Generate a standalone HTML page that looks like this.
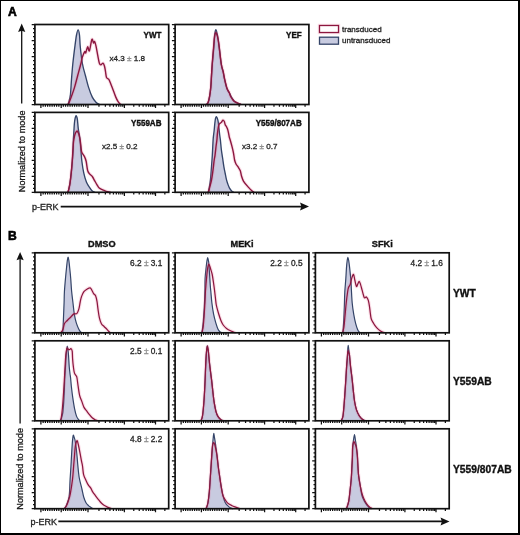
<!DOCTYPE html>
<html><head><meta charset="utf-8"><style>
html,body{margin:0;padding:0;background:#fff;}
body{width:520px;height:535px;overflow:hidden;font-family:"Liberation Sans",sans-serif;position:relative;}
.bt,.bl,.br,.bb{position:absolute;background:#000;}
.bt{left:0;top:0;width:520px;height:1.2px;}
.bl{left:0;top:0;width:1.4px;height:535px;}
.br{left:518px;top:0;width:2px;height:535px;}
.bb{left:0;top:533px;width:520px;height:2px;}
svg{display:block;filter:blur(0.35px);}
</style></head><body>
<svg width="520" height="535" viewBox="0 0 520 535" font-family="Liberation Sans, sans-serif"><rect x="0" y="0" width="520" height="535" fill="#fff"/>
<path d="M67.5 104.5 C67.67 104.28 68.02 104.82 68.5 103.2 C68.98 101.58 69.9 98.77 70.4 94.8 C70.9 90.83 71.1 84.53 71.5 79.4 C71.9 74.27 72.25 69.38 72.8 64 C73.35 58.62 74.18 51.93 74.8 47.1 C75.42 42.27 75.95 37.88 76.5 35 C77.05 32.12 77.6 29.8 78.1 29.8 C78.6 29.8 79.13 32.13 79.5 35 C79.87 37.87 79.8 42.17 80.3 47 C80.8 51.83 81.65 59.25 82.5 64 C83.35 68.75 84.4 71.65 85.4 75.5 C86.4 79.35 87.35 83.5 88.5 87.1 C89.65 90.7 91.02 94.53 92.3 97.1 C93.58 99.67 95 101.27 96.2 102.5 C97.4 103.73 98.95 104.17 99.5 104.5 Z" fill="#c8cbe0" stroke="none"/>
<path d="M67.5 104.5 C67.67 104.28 68.02 104.82 68.5 103.2 C68.98 101.58 69.9 98.77 70.4 94.8 C70.9 90.83 71.1 84.53 71.5 79.4 C71.9 74.27 72.25 69.38 72.8 64 C73.35 58.62 74.18 51.93 74.8 47.1 C75.42 42.27 75.95 37.88 76.5 35 C77.05 32.12 77.6 29.8 78.1 29.8 C78.6 29.8 79.13 32.13 79.5 35 C79.87 37.87 79.8 42.17 80.3 47 C80.8 51.83 81.65 59.25 82.5 64 C83.35 68.75 84.4 71.65 85.4 75.5 C86.4 79.35 87.35 83.5 88.5 87.1 C89.65 90.7 91.02 94.53 92.3 97.1 C93.58 99.67 95 101.27 96.2 102.5 C97.4 103.73 98.95 104.17 99.5 104.5" fill="none" stroke="#344468" stroke-width="1.35" stroke-linejoin="round"/>
<path d="M68.3 104.5 C68.83 103.13 70.45 99.2 71.5 96.3 C72.55 93.4 73.57 90.57 74.6 87.1 C75.63 83.63 76.67 79.35 77.7 75.5 C78.73 71.65 80.03 67.03 80.8 64 C81.57 60.97 81.65 59.35 82.3 57.3 C82.95 55.25 84.12 52.45 84.7 51.7 C85.28 50.95 85.32 53.62 85.8 52.8 C86.28 51.98 87 47.13 87.6 46.8 C88.2 46.47 88.68 52.03 89.4 50.8 C90.12 49.57 91.22 40.7 91.9 39.4 C92.58 38.1 93.05 42.67 93.5 43 C93.95 43.33 94.2 40.95 94.6 41.4 C95 41.85 95.4 43.5 95.9 45.7 C96.4 47.9 97 51.62 97.6 54.6 C98.2 57.58 98.92 61.9 99.5 63.6 C100.08 65.3 100.52 64.88 101.1 64.8 C101.68 64.72 102.43 62.87 103 63.1 C103.57 63.33 104.08 64.8 104.5 66.2 C104.92 67.6 105.17 69.62 105.5 71.5 C105.83 73.38 105.95 76.18 106.5 77.5 C107.05 78.82 108.08 78.32 108.8 79.4 C109.52 80.48 110.02 82.08 110.8 84 C111.58 85.92 112.67 88.72 113.5 90.9 C114.33 93.08 115.03 95.3 115.8 97.1 C116.57 98.9 117.32 100.47 118.1 101.7 C118.88 102.93 120.1 104.03 120.5 104.5" fill="none" stroke="#e8507f" stroke-width="3.4" stroke-linejoin="round" stroke-opacity="0.18"/>
<path d="M68.3 104.5 C68.83 103.13 70.45 99.2 71.5 96.3 C72.55 93.4 73.57 90.57 74.6 87.1 C75.63 83.63 76.67 79.35 77.7 75.5 C78.73 71.65 80.03 67.03 80.8 64 C81.57 60.97 81.65 59.35 82.3 57.3 C82.95 55.25 84.12 52.45 84.7 51.7 C85.28 50.95 85.32 53.62 85.8 52.8 C86.28 51.98 87 47.13 87.6 46.8 C88.2 46.47 88.68 52.03 89.4 50.8 C90.12 49.57 91.22 40.7 91.9 39.4 C92.58 38.1 93.05 42.67 93.5 43 C93.95 43.33 94.2 40.95 94.6 41.4 C95 41.85 95.4 43.5 95.9 45.7 C96.4 47.9 97 51.62 97.6 54.6 C98.2 57.58 98.92 61.9 99.5 63.6 C100.08 65.3 100.52 64.88 101.1 64.8 C101.68 64.72 102.43 62.87 103 63.1 C103.57 63.33 104.08 64.8 104.5 66.2 C104.92 67.6 105.17 69.62 105.5 71.5 C105.83 73.38 105.95 76.18 106.5 77.5 C107.05 78.82 108.08 78.32 108.8 79.4 C109.52 80.48 110.02 82.08 110.8 84 C111.58 85.92 112.67 88.72 113.5 90.9 C114.33 93.08 115.03 95.3 115.8 97.1 C116.57 98.9 117.32 100.47 118.1 101.7 C118.88 102.93 120.1 104.03 120.5 104.5" fill="none" stroke="#8c173f" stroke-width="1.4" stroke-linejoin="round"/>
<path d="M206.5 104.5 C206.77 104.17 207.58 103.87 208.1 102.5 C208.62 101.13 209.15 98.87 209.6 96.3 C210.05 93.73 210.48 90.57 210.8 87.1 C211.12 83.63 211.25 79.35 211.5 75.5 C211.75 71.65 211.92 68.73 212.3 64 C212.68 59.27 213.42 51.85 213.8 47.1 C214.18 42.35 214.27 38.38 214.6 35.5 C214.93 32.62 215.37 30.05 215.8 29.8 C216.23 29.55 216.78 32.3 217.2 34 C217.62 35.7 217.97 37.82 218.3 40 C218.63 42.18 218.72 43.1 219.2 47.1 C219.68 51.1 220.55 59.9 221.2 64 C221.85 68.1 222.53 69.13 223.1 71.7 C223.67 74.27 223.97 76.58 224.6 79.4 C225.23 82.22 226.07 86.28 226.9 88.6 C227.73 90.92 228.77 91.75 229.6 93.3 C230.43 94.85 231.13 96.57 231.9 97.9 C232.67 99.23 233.23 100.43 234.2 101.3 C235.17 102.17 236.57 102.57 237.7 103.1 C238.83 103.63 240.45 104.27 241 104.5 Z" fill="#c8cbe0" stroke="none"/>
<path d="M206.5 104.5 C206.77 104.17 207.58 103.87 208.1 102.5 C208.62 101.13 209.15 98.87 209.6 96.3 C210.05 93.73 210.48 90.57 210.8 87.1 C211.12 83.63 211.25 79.35 211.5 75.5 C211.75 71.65 211.92 68.73 212.3 64 C212.68 59.27 213.42 51.85 213.8 47.1 C214.18 42.35 214.27 38.38 214.6 35.5 C214.93 32.62 215.37 30.05 215.8 29.8 C216.23 29.55 216.78 32.3 217.2 34 C217.62 35.7 217.97 37.82 218.3 40 C218.63 42.18 218.72 43.1 219.2 47.1 C219.68 51.1 220.55 59.9 221.2 64 C221.85 68.1 222.53 69.13 223.1 71.7 C223.67 74.27 223.97 76.58 224.6 79.4 C225.23 82.22 226.07 86.28 226.9 88.6 C227.73 90.92 228.77 91.75 229.6 93.3 C230.43 94.85 231.13 96.57 231.9 97.9 C232.67 99.23 233.23 100.43 234.2 101.3 C235.17 102.17 236.57 102.57 237.7 103.1 C238.83 103.63 240.45 104.27 241 104.5" fill="none" stroke="#344468" stroke-width="1.35" stroke-linejoin="round"/>
<path d="M206.5 104.5 C206.77 104.17 207.58 103.87 208.1 102.5 C208.62 101.13 209.15 98.87 209.6 96.3 C210.05 93.73 210.48 90.57 210.8 87.1 C211.12 83.63 211.27 79.35 211.5 75.5 C211.73 71.65 211.85 68.73 212.2 64 C212.55 59.27 213.2 51.68 213.6 47.1 C214 42.52 214.23 38.92 214.6 36.5 C214.97 34.08 215.37 32.77 215.8 32.6 C216.23 32.43 216.8 34.27 217.2 35.5 C217.6 36.73 217.87 38.07 218.2 40 C218.53 41.93 218.68 43.1 219.2 47.1 C219.72 51.1 220.63 59.9 221.3 64 C221.97 68.1 222.63 69.13 223.2 71.7 C223.77 74.27 224.05 76.58 224.7 79.4 C225.35 82.22 226.35 86.42 227.1 88.6 C227.85 90.78 228.62 91.22 229.2 92.5 C229.78 93.78 230.1 95.25 230.6 96.3 C231.1 97.35 231.55 97.93 232.2 98.8 C232.85 99.67 233.58 100.77 234.5 101.5 C235.42 102.23 236.62 102.7 237.7 103.2 C238.78 103.7 240.45 104.28 241 104.5" fill="none" stroke="#e8507f" stroke-width="3.4" stroke-linejoin="round" stroke-opacity="0.18"/>
<path d="M206.5 104.5 C206.77 104.17 207.58 103.87 208.1 102.5 C208.62 101.13 209.15 98.87 209.6 96.3 C210.05 93.73 210.48 90.57 210.8 87.1 C211.12 83.63 211.27 79.35 211.5 75.5 C211.73 71.65 211.85 68.73 212.2 64 C212.55 59.27 213.2 51.68 213.6 47.1 C214 42.52 214.23 38.92 214.6 36.5 C214.97 34.08 215.37 32.77 215.8 32.6 C216.23 32.43 216.8 34.27 217.2 35.5 C217.6 36.73 217.87 38.07 218.2 40 C218.53 41.93 218.68 43.1 219.2 47.1 C219.72 51.1 220.63 59.9 221.3 64 C221.97 68.1 222.63 69.13 223.2 71.7 C223.77 74.27 224.05 76.58 224.7 79.4 C225.35 82.22 226.35 86.42 227.1 88.6 C227.85 90.78 228.62 91.22 229.2 92.5 C229.78 93.78 230.1 95.25 230.6 96.3 C231.1 97.35 231.55 97.93 232.2 98.8 C232.85 99.67 233.58 100.77 234.5 101.5 C235.42 102.23 236.62 102.7 237.7 103.2 C238.78 103.7 240.45 104.28 241 104.5" fill="none" stroke="#8c173f" stroke-width="1.4" stroke-linejoin="round"/>
<path d="M67.8 192.3 C67.97 191.78 68.43 190.73 68.8 189.2 C69.17 187.67 69.6 185.78 70 183.1 C70.4 180.42 70.82 176.7 71.2 173.1 C71.58 169.5 71.98 165.35 72.3 161.5 C72.62 157.65 72.93 153.38 73.1 150 C73.27 146.62 73.17 144.35 73.3 141.2 C73.43 138.05 73.72 134.1 73.9 131.1 C74.08 128.1 74.18 125.38 74.4 123.2 C74.62 121.02 74.92 119.27 75.2 118 C75.48 116.73 75.8 115.68 76.1 115.6 C76.4 115.52 76.77 116.7 77 117.5 C77.23 118.3 77.28 118.52 77.5 120.4 C77.72 122.28 77.93 126 78.3 128.8 C78.67 131.6 79.33 134.5 79.7 137.2 C80.07 139.9 80.3 142.87 80.5 145 C80.7 147.13 80.67 147.25 80.9 150 C81.13 152.75 81.42 157.65 81.9 161.5 C82.38 165.35 83.03 169.63 83.8 173.1 C84.57 176.57 85.47 179.8 86.5 182.3 C87.53 184.8 89.03 186.65 90 188.1 C90.97 189.55 91.47 190.3 92.3 191 C93.13 191.7 94.55 192.08 95 192.3 Z" fill="#c8cbe0" stroke="none"/>
<path d="M67.8 192.3 C67.97 191.78 68.43 190.73 68.8 189.2 C69.17 187.67 69.6 185.78 70 183.1 C70.4 180.42 70.82 176.7 71.2 173.1 C71.58 169.5 71.98 165.35 72.3 161.5 C72.62 157.65 72.93 153.38 73.1 150 C73.27 146.62 73.17 144.35 73.3 141.2 C73.43 138.05 73.72 134.1 73.9 131.1 C74.08 128.1 74.18 125.38 74.4 123.2 C74.62 121.02 74.92 119.27 75.2 118 C75.48 116.73 75.8 115.68 76.1 115.6 C76.4 115.52 76.77 116.7 77 117.5 C77.23 118.3 77.28 118.52 77.5 120.4 C77.72 122.28 77.93 126 78.3 128.8 C78.67 131.6 79.33 134.5 79.7 137.2 C80.07 139.9 80.3 142.87 80.5 145 C80.7 147.13 80.67 147.25 80.9 150 C81.13 152.75 81.42 157.65 81.9 161.5 C82.38 165.35 83.03 169.63 83.8 173.1 C84.57 176.57 85.47 179.8 86.5 182.3 C87.53 184.8 89.03 186.65 90 188.1 C90.97 189.55 91.47 190.3 92.3 191 C93.13 191.7 94.55 192.08 95 192.3" fill="none" stroke="#344468" stroke-width="1.35" stroke-linejoin="round"/>
<path d="M68 192.3 C68.13 191.78 68.47 190.73 68.8 189.2 C69.13 187.67 69.6 185.78 70 183.1 C70.4 180.42 70.83 176.7 71.2 173.1 C71.57 169.5 71.92 165.35 72.2 161.5 C72.48 157.65 72.68 153.25 72.9 150 C73.12 146.75 73.25 144.22 73.5 142 C73.75 139.78 74.07 138.2 74.4 136.7 C74.73 135.2 75.08 133.93 75.5 133 C75.92 132.07 76.52 131.27 76.9 131.1 C77.28 130.93 77.47 131.45 77.8 132 C78.13 132.55 78.48 132.87 78.9 134.4 C79.32 135.93 79.92 138.77 80.3 141.2 C80.68 143.63 80.93 147.12 81.2 149 C81.47 150.88 81.33 151.18 81.9 152.5 C82.47 153.82 83.88 155.4 84.6 156.9 C85.32 158.4 85.68 159.18 86.2 161.5 C86.72 163.82 87.07 168.67 87.7 170.8 C88.33 172.93 89.23 173.35 90 174.3 C90.77 175.25 91.53 175.45 92.3 176.5 C93.07 177.55 93.83 179.25 94.6 180.6 C95.37 181.95 96.13 183.35 96.9 184.6 C97.67 185.85 98.23 187.23 99.2 188.1 C100.17 188.97 101.53 189.27 102.7 189.8 C103.87 190.33 104.9 190.88 106.2 191.3 C107.5 191.72 109.78 192.13 110.5 192.3" fill="none" stroke="#e8507f" stroke-width="3.4" stroke-linejoin="round" stroke-opacity="0.18"/>
<path d="M68 192.3 C68.13 191.78 68.47 190.73 68.8 189.2 C69.13 187.67 69.6 185.78 70 183.1 C70.4 180.42 70.83 176.7 71.2 173.1 C71.57 169.5 71.92 165.35 72.2 161.5 C72.48 157.65 72.68 153.25 72.9 150 C73.12 146.75 73.25 144.22 73.5 142 C73.75 139.78 74.07 138.2 74.4 136.7 C74.73 135.2 75.08 133.93 75.5 133 C75.92 132.07 76.52 131.27 76.9 131.1 C77.28 130.93 77.47 131.45 77.8 132 C78.13 132.55 78.48 132.87 78.9 134.4 C79.32 135.93 79.92 138.77 80.3 141.2 C80.68 143.63 80.93 147.12 81.2 149 C81.47 150.88 81.33 151.18 81.9 152.5 C82.47 153.82 83.88 155.4 84.6 156.9 C85.32 158.4 85.68 159.18 86.2 161.5 C86.72 163.82 87.07 168.67 87.7 170.8 C88.33 172.93 89.23 173.35 90 174.3 C90.77 175.25 91.53 175.45 92.3 176.5 C93.07 177.55 93.83 179.25 94.6 180.6 C95.37 181.95 96.13 183.35 96.9 184.6 C97.67 185.85 98.23 187.23 99.2 188.1 C100.17 188.97 101.53 189.27 102.7 189.8 C103.87 190.33 104.9 190.88 106.2 191.3 C107.5 191.72 109.78 192.13 110.5 192.3" fill="none" stroke="#8c173f" stroke-width="1.4" stroke-linejoin="round"/>
<path d="M208 192.3 C208.13 191.92 208.4 192.05 208.8 190 C209.2 187.95 210 183.2 210.4 180 C210.8 176.8 210.88 174.9 211.2 170.8 C211.52 166.7 211.98 160.53 212.3 155.4 C212.62 150.27 212.88 143.4 213.1 140 C213.32 136.6 213.42 136.67 213.6 135 C213.78 133.33 214 131.92 214.2 130 C214.4 128.08 214.58 125.42 214.8 123.5 C215.02 121.58 215.25 119.65 215.5 118.5 C215.75 117.35 216.02 116.68 216.3 116.6 C216.58 116.52 216.92 117.32 217.2 118 C217.48 118.68 217.73 119.3 218 120.7 C218.27 122.1 218.52 124.02 218.8 126.4 C219.08 128.78 219.43 132.73 219.7 135 C219.97 137.27 220.12 137.5 220.4 140 C220.68 142.5 221.03 147 221.4 150 C221.77 153 222.18 155.2 222.6 158 C223.02 160.8 223.48 164.3 223.9 166.8 C224.32 169.3 224.68 170.9 225.1 173 C225.52 175.1 225.95 177.57 226.4 179.4 C226.85 181.23 227.3 182.6 227.8 184 C228.3 185.4 228.72 186.6 229.4 187.8 C230.08 189 231.17 190.45 231.9 191.2 C232.63 191.95 233.48 192.12 233.8 192.3 Z" fill="#c8cbe0" stroke="none"/>
<path d="M208 192.3 C208.13 191.92 208.4 192.05 208.8 190 C209.2 187.95 210 183.2 210.4 180 C210.8 176.8 210.88 174.9 211.2 170.8 C211.52 166.7 211.98 160.53 212.3 155.4 C212.62 150.27 212.88 143.4 213.1 140 C213.32 136.6 213.42 136.67 213.6 135 C213.78 133.33 214 131.92 214.2 130 C214.4 128.08 214.58 125.42 214.8 123.5 C215.02 121.58 215.25 119.65 215.5 118.5 C215.75 117.35 216.02 116.68 216.3 116.6 C216.58 116.52 216.92 117.32 217.2 118 C217.48 118.68 217.73 119.3 218 120.7 C218.27 122.1 218.52 124.02 218.8 126.4 C219.08 128.78 219.43 132.73 219.7 135 C219.97 137.27 220.12 137.5 220.4 140 C220.68 142.5 221.03 147 221.4 150 C221.77 153 222.18 155.2 222.6 158 C223.02 160.8 223.48 164.3 223.9 166.8 C224.32 169.3 224.68 170.9 225.1 173 C225.52 175.1 225.95 177.57 226.4 179.4 C226.85 181.23 227.3 182.6 227.8 184 C228.3 185.4 228.72 186.6 229.4 187.8 C230.08 189 231.17 190.45 231.9 191.2 C232.63 191.95 233.48 192.12 233.8 192.3" fill="none" stroke="#344468" stroke-width="1.35" stroke-linejoin="round"/>
<path d="M208.5 192.3 C208.58 191.92 208.5 192.05 209 190 C209.5 187.95 210.85 183.2 211.5 180 C212.15 176.8 212.45 174.13 212.9 170.8 C213.35 167.47 213.85 162.57 214.2 160 C214.55 157.43 214.67 157.9 215 155.4 C215.33 152.9 215.88 147.57 216.2 145 C216.52 142.43 216.7 141.85 216.9 140 C217.1 138.15 217.12 136.27 217.4 133.9 C217.68 131.53 218.17 127.57 218.6 125.8 C219.03 124.03 219.53 123.87 220 123.3 C220.47 122.73 220.92 122.92 221.4 122.4 C221.88 121.88 222.42 120.35 222.9 120.2 C223.38 120.05 223.92 120.75 224.3 121.5 C224.68 122.25 224.82 123.78 225.2 124.7 C225.58 125.62 226.17 126.13 226.6 127 C227.03 127.87 227.45 128.75 227.8 129.9 C228.15 131.05 228.43 132.63 228.7 133.9 C228.97 135.17 229.15 136.48 229.4 137.5 C229.65 138.52 229.78 138.55 230.2 140 C230.62 141.45 231.35 144.02 231.9 146.2 C232.45 148.38 233.05 150.8 233.5 153.1 C233.95 155.4 234.18 158.18 234.6 160 C235.02 161.82 235.42 162.85 236 164 C236.58 165.15 237.38 165.77 238.1 166.9 C238.82 168.03 239.73 169.28 240.3 170.8 C240.87 172.32 240.95 174.25 241.5 176 C242.05 177.75 242.47 179.45 243.6 181.3 C244.73 183.15 246.88 185.48 248.3 187.1 C249.72 188.72 251.15 190.13 252.1 191 C253.05 191.87 253.68 192.08 254 192.3" fill="none" stroke="#e8507f" stroke-width="3.4" stroke-linejoin="round" stroke-opacity="0.18"/>
<path d="M208.5 192.3 C208.58 191.92 208.5 192.05 209 190 C209.5 187.95 210.85 183.2 211.5 180 C212.15 176.8 212.45 174.13 212.9 170.8 C213.35 167.47 213.85 162.57 214.2 160 C214.55 157.43 214.67 157.9 215 155.4 C215.33 152.9 215.88 147.57 216.2 145 C216.52 142.43 216.7 141.85 216.9 140 C217.1 138.15 217.12 136.27 217.4 133.9 C217.68 131.53 218.17 127.57 218.6 125.8 C219.03 124.03 219.53 123.87 220 123.3 C220.47 122.73 220.92 122.92 221.4 122.4 C221.88 121.88 222.42 120.35 222.9 120.2 C223.38 120.05 223.92 120.75 224.3 121.5 C224.68 122.25 224.82 123.78 225.2 124.7 C225.58 125.62 226.17 126.13 226.6 127 C227.03 127.87 227.45 128.75 227.8 129.9 C228.15 131.05 228.43 132.63 228.7 133.9 C228.97 135.17 229.15 136.48 229.4 137.5 C229.65 138.52 229.78 138.55 230.2 140 C230.62 141.45 231.35 144.02 231.9 146.2 C232.45 148.38 233.05 150.8 233.5 153.1 C233.95 155.4 234.18 158.18 234.6 160 C235.02 161.82 235.42 162.85 236 164 C236.58 165.15 237.38 165.77 238.1 166.9 C238.82 168.03 239.73 169.28 240.3 170.8 C240.87 172.32 240.95 174.25 241.5 176 C242.05 177.75 242.47 179.45 243.6 181.3 C244.73 183.15 246.88 185.48 248.3 187.1 C249.72 188.72 251.15 190.13 252.1 191 C253.05 191.87 253.68 192.08 254 192.3" fill="none" stroke="#8c173f" stroke-width="1.4" stroke-linejoin="round"/>
<path d="M31.7 24.5H34.9 M33 28.5H34.9 M33 32.5H34.9 M33 36.5H34.9 M31.7 40.5H34.9 M33 44.5H34.9 M33 48.5H34.9 M33 52.5H34.9 M31.7 56.5H34.9 M33 60.5H34.9 M33 64.5H34.9 M33 68.5H34.9 M31.7 72.5H34.9 M33 76.5H34.9 M33 80.5H34.9 M33 84.5H34.9 M31.7 88.5H34.9 M33 92.5H34.9 M33 96.5H34.9 M33 100.5H34.9 M31.7 104.5H34.9 M40.9 104.5V108.1 M61.2 104.5V108.1 M88 104.5V108.1 M124.4 104.5V108.1 M155.5 104.5V108.1 M43.14 104.5V106.8 M45.39 104.5V106.8 M47.63 104.5V106.8 M49.87 104.5V106.8 M52.11 104.5V106.8 M54.36 104.5V106.8 M56.6 104.5V106.8 M58.84 104.5V106.8 M63.33 104.5V106.8 M65.57 104.5V106.8 M67.81 104.5V106.8 M70.06 104.5V106.8 M72.3 104.5V106.8 M74.54 104.5V106.8 M76.79 104.5V106.8 M79.03 104.5V106.8 M81.27 104.5V106.8 M83.51 104.5V106.8 M85.76 104.5V106.8 M98.96 104.5V106.8 M105.37 104.5V106.8 M109.91 104.5V106.8 M113.44 104.5V106.8 M116.32 104.5V106.8 M118.76 104.5V106.8 M120.87 104.5V106.8 M122.73 104.5V106.8 M133.76 104.5V106.8 M139.24 104.5V106.8 M143.12 104.5V106.8 M146.14 104.5V106.8 M148.6 104.5V106.8 M150.68 104.5V106.8 M152.49 104.5V106.8 M154.08 104.5V106.8 M164.86 104.5V106.8" stroke="#111" stroke-width="1.25" fill="none"/>
<rect x="34.9" y="24.5" width="133.8" height="80" fill="none" stroke="#111" stroke-width="1.7"/>
<text x="0" y="0" font-size="8.05" font-weight="bold" text-anchor="end" fill="#111" stroke="#111" stroke-width="0.35" transform="translate(161.5 37.8) scale(1 1.11)">YWT</text>
<path d="M171.9 24.5H175.1 M173.2 28.5H175.1 M173.2 32.5H175.1 M173.2 36.5H175.1 M171.9 40.5H175.1 M173.2 44.5H175.1 M173.2 48.5H175.1 M173.2 52.5H175.1 M171.9 56.5H175.1 M173.2 60.5H175.1 M173.2 64.5H175.1 M173.2 68.5H175.1 M171.9 72.5H175.1 M173.2 76.5H175.1 M173.2 80.5H175.1 M173.2 84.5H175.1 M171.9 88.5H175.1 M173.2 92.5H175.1 M173.2 96.5H175.1 M173.2 100.5H175.1 M171.9 104.5H175.1 M181.1 104.5V108.1 M201.4 104.5V108.1 M228.2 104.5V108.1 M264.6 104.5V108.1 M295.7 104.5V108.1 M183.34 104.5V106.8 M185.59 104.5V106.8 M187.83 104.5V106.8 M190.07 104.5V106.8 M192.31 104.5V106.8 M194.56 104.5V106.8 M196.8 104.5V106.8 M199.04 104.5V106.8 M203.53 104.5V106.8 M205.77 104.5V106.8 M208.01 104.5V106.8 M210.26 104.5V106.8 M212.5 104.5V106.8 M214.74 104.5V106.8 M216.99 104.5V106.8 M219.23 104.5V106.8 M221.47 104.5V106.8 M223.71 104.5V106.8 M225.96 104.5V106.8 M239.16 104.5V106.8 M245.57 104.5V106.8 M250.11 104.5V106.8 M253.64 104.5V106.8 M256.52 104.5V106.8 M258.96 104.5V106.8 M261.07 104.5V106.8 M262.93 104.5V106.8 M273.96 104.5V106.8 M279.44 104.5V106.8 M283.32 104.5V106.8 M286.34 104.5V106.8 M288.8 104.5V106.8 M290.88 104.5V106.8 M292.69 104.5V106.8 M294.28 104.5V106.8 M305.06 104.5V106.8" stroke="#111" stroke-width="1.25" fill="none"/>
<rect x="175.1" y="24.5" width="133.8" height="80" fill="none" stroke="#111" stroke-width="1.7"/>
<text x="0" y="0" font-size="8.05" font-weight="bold" text-anchor="end" fill="#111" stroke="#111" stroke-width="0.35" transform="translate(301.7 37.8) scale(1 1.11)">YEF</text>
<path d="M31.7 112.4H34.9 M33 116.4H34.9 M33 120.39H34.9 M33 124.39H34.9 M31.7 128.38H34.9 M33 132.38H34.9 M33 136.37H34.9 M33 140.37H34.9 M31.7 144.36H34.9 M33 148.36H34.9 M33 152.35H34.9 M33 156.35H34.9 M31.7 160.34H34.9 M33 164.34H34.9 M33 168.33H34.9 M33 172.33H34.9 M31.7 176.32H34.9 M33 180.31H34.9 M33 184.31H34.9 M33 188.31H34.9 M31.7 192.3H34.9 M40.9 192.3V195.9 M61.2 192.3V195.9 M88 192.3V195.9 M124.4 192.3V195.9 M155.5 192.3V195.9 M43.14 192.3V194.6 M45.39 192.3V194.6 M47.63 192.3V194.6 M49.87 192.3V194.6 M52.11 192.3V194.6 M54.36 192.3V194.6 M56.6 192.3V194.6 M58.84 192.3V194.6 M63.33 192.3V194.6 M65.57 192.3V194.6 M67.81 192.3V194.6 M70.06 192.3V194.6 M72.3 192.3V194.6 M74.54 192.3V194.6 M76.79 192.3V194.6 M79.03 192.3V194.6 M81.27 192.3V194.6 M83.51 192.3V194.6 M85.76 192.3V194.6 M98.96 192.3V194.6 M105.37 192.3V194.6 M109.91 192.3V194.6 M113.44 192.3V194.6 M116.32 192.3V194.6 M118.76 192.3V194.6 M120.87 192.3V194.6 M122.73 192.3V194.6 M133.76 192.3V194.6 M139.24 192.3V194.6 M143.12 192.3V194.6 M146.14 192.3V194.6 M148.6 192.3V194.6 M150.68 192.3V194.6 M152.49 192.3V194.6 M154.08 192.3V194.6 M164.86 192.3V194.6" stroke="#111" stroke-width="1.25" fill="none"/>
<rect x="34.9" y="112.4" width="133.8" height="79.9" fill="none" stroke="#111" stroke-width="1.7"/>
<text x="0" y="0" font-size="8.05" font-weight="bold" text-anchor="end" fill="#111" stroke="#111" stroke-width="0.35" transform="translate(161.5 125.7) scale(1 1.11)">Y559AB</text>
<path d="M171.9 112.4H175.1 M173.2 116.4H175.1 M173.2 120.39H175.1 M173.2 124.39H175.1 M171.9 128.38H175.1 M173.2 132.38H175.1 M173.2 136.37H175.1 M173.2 140.37H175.1 M171.9 144.36H175.1 M173.2 148.36H175.1 M173.2 152.35H175.1 M173.2 156.35H175.1 M171.9 160.34H175.1 M173.2 164.34H175.1 M173.2 168.33H175.1 M173.2 172.33H175.1 M171.9 176.32H175.1 M173.2 180.31H175.1 M173.2 184.31H175.1 M173.2 188.31H175.1 M171.9 192.3H175.1 M181.1 192.3V195.9 M201.4 192.3V195.9 M228.2 192.3V195.9 M264.6 192.3V195.9 M295.7 192.3V195.9 M183.34 192.3V194.6 M185.59 192.3V194.6 M187.83 192.3V194.6 M190.07 192.3V194.6 M192.31 192.3V194.6 M194.56 192.3V194.6 M196.8 192.3V194.6 M199.04 192.3V194.6 M203.53 192.3V194.6 M205.77 192.3V194.6 M208.01 192.3V194.6 M210.26 192.3V194.6 M212.5 192.3V194.6 M214.74 192.3V194.6 M216.99 192.3V194.6 M219.23 192.3V194.6 M221.47 192.3V194.6 M223.71 192.3V194.6 M225.96 192.3V194.6 M239.16 192.3V194.6 M245.57 192.3V194.6 M250.11 192.3V194.6 M253.64 192.3V194.6 M256.52 192.3V194.6 M258.96 192.3V194.6 M261.07 192.3V194.6 M262.93 192.3V194.6 M273.96 192.3V194.6 M279.44 192.3V194.6 M283.32 192.3V194.6 M286.34 192.3V194.6 M288.8 192.3V194.6 M290.88 192.3V194.6 M292.69 192.3V194.6 M294.28 192.3V194.6 M305.06 192.3V194.6" stroke="#111" stroke-width="1.25" fill="none"/>
<rect x="175.1" y="112.4" width="133.8" height="79.9" fill="none" stroke="#111" stroke-width="1.7"/>
<text x="0" y="0" font-size="8.05" font-weight="bold" text-anchor="end" fill="#111" stroke="#111" stroke-width="0.35" transform="translate(301.7 125.7) scale(1 1.11)">Y559/807AB</text>
<path d="M62.6 332.8 C62.63 332.53 62.7 332.57 62.8 331.2 C62.9 329.83 63.07 327.35 63.2 324.6 C63.33 321.85 63.45 318.42 63.6 314.7 C63.75 310.98 63.97 306.08 64.1 302.3 C64.23 298.52 64.17 296.02 64.4 292 C64.63 287.98 65.13 282.37 65.5 278.2 C65.87 274.03 66.28 270.03 66.6 267 C66.92 263.97 67.15 261.63 67.4 260 C67.65 258.37 67.87 257.2 68.1 257.2 C68.33 257.2 68.55 258.37 68.8 260 C69.05 261.63 69.28 263.97 69.6 267 C69.92 270.03 70.37 274.2 70.7 278.2 C71.03 282.2 71.23 286.98 71.6 291 C71.97 295.02 72.43 298.35 72.9 302.3 C73.37 306.25 73.83 311.27 74.4 314.7 C74.97 318.13 75.58 320.52 76.3 322.9 C77.02 325.28 77.98 327.48 78.7 329 C79.42 330.52 80.05 331.37 80.6 332 C81.15 332.63 81.77 332.67 82 332.8 Z" fill="#c8cbe0" stroke="none"/>
<path d="M62.6 332.8 C62.63 332.53 62.7 332.57 62.8 331.2 C62.9 329.83 63.07 327.35 63.2 324.6 C63.33 321.85 63.45 318.42 63.6 314.7 C63.75 310.98 63.97 306.08 64.1 302.3 C64.23 298.52 64.17 296.02 64.4 292 C64.63 287.98 65.13 282.37 65.5 278.2 C65.87 274.03 66.28 270.03 66.6 267 C66.92 263.97 67.15 261.63 67.4 260 C67.65 258.37 67.87 257.2 68.1 257.2 C68.33 257.2 68.55 258.37 68.8 260 C69.05 261.63 69.28 263.97 69.6 267 C69.92 270.03 70.37 274.2 70.7 278.2 C71.03 282.2 71.23 286.98 71.6 291 C71.97 295.02 72.43 298.35 72.9 302.3 C73.37 306.25 73.83 311.27 74.4 314.7 C74.97 318.13 75.58 320.52 76.3 322.9 C77.02 325.28 77.98 327.48 78.7 329 C79.42 330.52 80.05 331.37 80.6 332 C81.15 332.63 81.77 332.67 82 332.8" fill="none" stroke="#344468" stroke-width="1.2" stroke-linejoin="round"/>
<path d="M60.8 332.8 C61.15 332.25 62.28 331.05 62.9 329.5 C63.52 327.95 63.77 325 64.5 323.5 C65.23 322 66.28 321.55 67.3 320.5 C68.32 319.45 69.5 318.3 70.6 317.2 C71.7 316.1 72.87 314.5 73.9 313.9 C74.93 313.3 75.97 314.43 76.8 313.6 C77.63 312.77 78.33 310.83 78.9 308.9 C79.47 306.97 79.77 304.05 80.2 302 C80.63 299.95 80.88 298.32 81.5 296.6 C82.12 294.88 83.02 292.92 83.9 291.7 C84.78 290.48 85.75 289.95 86.8 289.3 C87.85 288.65 89.32 287.57 90.2 287.8 C91.08 288.03 91.53 289.72 92.1 290.7 C92.67 291.68 93.03 292.88 93.6 293.7 C94.17 294.52 94.93 294.32 95.5 295.6 C96.07 296.88 96.58 299.13 97 301.4 C97.42 303.67 97.6 306.45 98 309.2 C98.4 311.95 98.83 315.48 99.4 317.9 C99.97 320.32 100.58 322.23 101.4 323.7 C102.22 325.17 103.33 325.72 104.3 326.7 C105.27 327.68 106.25 328.58 107.2 329.6 C108.15 330.62 109.53 332.27 110 332.8" fill="none" stroke="#e8507f" stroke-width="3.4" stroke-linejoin="round" stroke-opacity="0.18"/>
<path d="M60.8 332.8 C61.15 332.25 62.28 331.05 62.9 329.5 C63.52 327.95 63.77 325 64.5 323.5 C65.23 322 66.28 321.55 67.3 320.5 C68.32 319.45 69.5 318.3 70.6 317.2 C71.7 316.1 72.87 314.5 73.9 313.9 C74.93 313.3 75.97 314.43 76.8 313.6 C77.63 312.77 78.33 310.83 78.9 308.9 C79.47 306.97 79.77 304.05 80.2 302 C80.63 299.95 80.88 298.32 81.5 296.6 C82.12 294.88 83.02 292.92 83.9 291.7 C84.78 290.48 85.75 289.95 86.8 289.3 C87.85 288.65 89.32 287.57 90.2 287.8 C91.08 288.03 91.53 289.72 92.1 290.7 C92.67 291.68 93.03 292.88 93.6 293.7 C94.17 294.52 94.93 294.32 95.5 295.6 C96.07 296.88 96.58 299.13 97 301.4 C97.42 303.67 97.6 306.45 98 309.2 C98.4 311.95 98.83 315.48 99.4 317.9 C99.97 320.32 100.58 322.23 101.4 323.7 C102.22 325.17 103.33 325.72 104.3 326.7 C105.27 327.68 106.25 328.58 107.2 329.6 C108.15 330.62 109.53 332.27 110 332.8" fill="none" stroke="#8c173f" stroke-width="1.25" stroke-linejoin="round"/>
<path d="M201.8 332.8 C201.97 331.72 202.48 329.1 202.8 326.3 C203.12 323.5 203.42 319.88 203.7 316 C203.98 312.12 204.3 307.17 204.5 303 C204.7 298.83 204.8 295.13 204.9 291 C205 286.87 204.88 282.2 205.1 278.2 C205.32 274.2 205.88 269.95 206.2 267 C206.52 264.05 206.75 262.07 207 260.5 C207.25 258.93 207.47 257.6 207.7 257.6 C207.93 257.6 208.22 259.57 208.4 260.5 C208.58 261.43 208.6 260.88 208.8 263.2 C209 265.52 209.35 270.65 209.6 274.4 C209.85 278.15 210.1 282.93 210.3 285.7 C210.5 288.47 210.53 288.12 210.8 291 C211.07 293.88 211.43 299.13 211.9 303 C212.37 306.87 212.95 310.88 213.6 314.2 C214.25 317.52 215.08 320.45 215.8 322.9 C216.52 325.35 217.18 327.38 217.9 328.9 C218.62 330.42 219.42 331.35 220.1 332 C220.78 332.65 221.68 332.67 222 332.8 Z" fill="#c8cbe0" stroke="none"/>
<path d="M201.8 332.8 C201.97 331.72 202.48 329.1 202.8 326.3 C203.12 323.5 203.42 319.88 203.7 316 C203.98 312.12 204.3 307.17 204.5 303 C204.7 298.83 204.8 295.13 204.9 291 C205 286.87 204.88 282.2 205.1 278.2 C205.32 274.2 205.88 269.95 206.2 267 C206.52 264.05 206.75 262.07 207 260.5 C207.25 258.93 207.47 257.6 207.7 257.6 C207.93 257.6 208.22 259.57 208.4 260.5 C208.58 261.43 208.6 260.88 208.8 263.2 C209 265.52 209.35 270.65 209.6 274.4 C209.85 278.15 210.1 282.93 210.3 285.7 C210.5 288.47 210.53 288.12 210.8 291 C211.07 293.88 211.43 299.13 211.9 303 C212.37 306.87 212.95 310.88 213.6 314.2 C214.25 317.52 215.08 320.45 215.8 322.9 C216.52 325.35 217.18 327.38 217.9 328.9 C218.62 330.42 219.42 331.35 220.1 332 C220.78 332.65 221.68 332.67 222 332.8" fill="none" stroke="#344468" stroke-width="1.2" stroke-linejoin="round"/>
<path d="M202 332.8 C202.2 331.72 202.85 329.1 203.2 326.3 C203.55 323.5 203.82 319.88 204.1 316 C204.38 312.12 204.68 307 204.9 303 C205.12 299 205.25 294.67 205.4 292 C205.55 289.33 205.67 288.68 205.8 287 C205.93 285.32 205.95 284.62 206.2 281.9 C206.45 279.18 206.98 273.35 207.3 270.7 C207.62 268.05 207.85 267.12 208.1 266 C208.35 264.88 208.53 264 208.8 264 C209.07 264 209.38 265.13 209.7 266 C210.02 266.87 210.28 267.78 210.7 269.2 C211.12 270.62 211.75 272.37 212.2 274.5 C212.65 276.63 213.02 279.42 213.4 282 C213.78 284.58 214.17 287.38 214.5 290 C214.83 292.62 215.1 295.2 215.4 297.7 C215.7 300.2 215.8 302.45 216.3 305 C216.8 307.55 217.63 310.42 218.4 313 C219.17 315.58 220.1 318.5 220.9 320.5 C221.7 322.5 222.27 323.68 223.2 325 C224.13 326.32 225.2 327.4 226.5 328.4 C227.8 329.4 229.5 330.27 231 331 C232.5 331.73 234.75 332.5 235.5 332.8" fill="none" stroke="#e8507f" stroke-width="3.4" stroke-linejoin="round" stroke-opacity="0.18"/>
<path d="M202 332.8 C202.2 331.72 202.85 329.1 203.2 326.3 C203.55 323.5 203.82 319.88 204.1 316 C204.38 312.12 204.68 307 204.9 303 C205.12 299 205.25 294.67 205.4 292 C205.55 289.33 205.67 288.68 205.8 287 C205.93 285.32 205.95 284.62 206.2 281.9 C206.45 279.18 206.98 273.35 207.3 270.7 C207.62 268.05 207.85 267.12 208.1 266 C208.35 264.88 208.53 264 208.8 264 C209.07 264 209.38 265.13 209.7 266 C210.02 266.87 210.28 267.78 210.7 269.2 C211.12 270.62 211.75 272.37 212.2 274.5 C212.65 276.63 213.02 279.42 213.4 282 C213.78 284.58 214.17 287.38 214.5 290 C214.83 292.62 215.1 295.2 215.4 297.7 C215.7 300.2 215.8 302.45 216.3 305 C216.8 307.55 217.63 310.42 218.4 313 C219.17 315.58 220.1 318.5 220.9 320.5 C221.7 322.5 222.27 323.68 223.2 325 C224.13 326.32 225.2 327.4 226.5 328.4 C227.8 329.4 229.5 330.27 231 331 C232.5 331.73 234.75 332.5 235.5 332.8" fill="none" stroke="#8c173f" stroke-width="1.25" stroke-linejoin="round"/>
<path d="M342.6 332.8 C342.67 332.45 342.83 332.35 343 330.7 C343.17 329.05 343.38 326.8 343.6 322.9 C343.82 319 344.1 312.45 344.3 307.3 C344.5 302.15 344.55 296.73 344.8 292 C345.05 287.27 345.52 283 345.8 278.9 C346.08 274.8 346.27 270.47 346.5 267.4 C346.73 264.33 346.97 262.17 347.2 260.5 C347.43 258.83 347.65 257.4 347.9 257.4 C348.15 257.4 348.42 258.83 348.7 260.5 C348.98 262.17 349.32 264.97 349.6 267.4 C349.88 269.83 350.15 272.5 350.4 275.1 C350.65 277.7 350.93 280.52 351.1 283 C351.27 285.48 351.22 286.67 351.4 290 C351.58 293.33 351.82 298.97 352.2 303 C352.58 307.03 353.12 310.75 353.7 314.2 C354.28 317.65 355.05 321.15 355.7 323.7 C356.35 326.25 357 328.08 357.6 329.5 C358.2 330.92 358.87 331.65 359.3 332.2 C359.73 332.75 360.05 332.7 360.2 332.8 Z" fill="#c8cbe0" stroke="none"/>
<path d="M342.6 332.8 C342.67 332.45 342.83 332.35 343 330.7 C343.17 329.05 343.38 326.8 343.6 322.9 C343.82 319 344.1 312.45 344.3 307.3 C344.5 302.15 344.55 296.73 344.8 292 C345.05 287.27 345.52 283 345.8 278.9 C346.08 274.8 346.27 270.47 346.5 267.4 C346.73 264.33 346.97 262.17 347.2 260.5 C347.43 258.83 347.65 257.4 347.9 257.4 C348.15 257.4 348.42 258.83 348.7 260.5 C348.98 262.17 349.32 264.97 349.6 267.4 C349.88 269.83 350.15 272.5 350.4 275.1 C350.65 277.7 350.93 280.52 351.1 283 C351.27 285.48 351.22 286.67 351.4 290 C351.58 293.33 351.82 298.97 352.2 303 C352.58 307.03 353.12 310.75 353.7 314.2 C354.28 317.65 355.05 321.15 355.7 323.7 C356.35 326.25 357 328.08 357.6 329.5 C358.2 330.92 358.87 331.65 359.3 332.2 C359.73 332.75 360.05 332.7 360.2 332.8" fill="none" stroke="#344468" stroke-width="1.2" stroke-linejoin="round"/>
<path d="M342.8 332.8 C342.85 332.5 342.9 332.08 343.1 331 C343.3 329.92 343.68 328.8 344 326.3 C344.32 323.8 344.63 319.88 345 316 C345.37 312.12 345.77 307 346.2 303 C346.63 299 347.22 294.58 347.6 292 C347.98 289.42 348.07 288.75 348.5 287.5 C348.93 286.25 349.68 285.97 350.2 284.5 C350.72 283.03 351.05 280.4 351.6 278.7 C352.15 277 352.97 274.08 353.5 274.3 C354.03 274.52 354.32 277.97 354.8 280 C355.28 282.03 355.93 285.77 356.4 286.5 C356.87 287.23 357.13 285.27 357.6 284.4 C358.07 283.53 358.72 281.3 359.2 281.3 C359.68 281.3 360.02 282.92 360.5 284.4 C360.98 285.88 361.52 288.1 362.1 290.2 C362.68 292.3 363.52 295.73 364 297 C364.48 298.27 364.6 297.8 365 297.8 C365.4 297.8 365.85 296.57 366.4 297 C366.95 297.43 367.77 298.68 368.3 300.4 C368.83 302.12 369.27 305.2 369.6 307.3 C369.93 309.4 370.03 311.1 370.3 313 C370.57 314.9 370.67 316.98 371.2 318.7 C371.73 320.42 372.73 321.97 373.5 323.3 C374.27 324.63 374.93 325.65 375.8 326.7 C376.67 327.75 377.75 328.78 378.7 329.6 C379.65 330.42 380.53 331.07 381.5 331.6 C382.47 332.13 384 332.6 384.5 332.8" fill="none" stroke="#e8507f" stroke-width="3.4" stroke-linejoin="round" stroke-opacity="0.18"/>
<path d="M342.8 332.8 C342.85 332.5 342.9 332.08 343.1 331 C343.3 329.92 343.68 328.8 344 326.3 C344.32 323.8 344.63 319.88 345 316 C345.37 312.12 345.77 307 346.2 303 C346.63 299 347.22 294.58 347.6 292 C347.98 289.42 348.07 288.75 348.5 287.5 C348.93 286.25 349.68 285.97 350.2 284.5 C350.72 283.03 351.05 280.4 351.6 278.7 C352.15 277 352.97 274.08 353.5 274.3 C354.03 274.52 354.32 277.97 354.8 280 C355.28 282.03 355.93 285.77 356.4 286.5 C356.87 287.23 357.13 285.27 357.6 284.4 C358.07 283.53 358.72 281.3 359.2 281.3 C359.68 281.3 360.02 282.92 360.5 284.4 C360.98 285.88 361.52 288.1 362.1 290.2 C362.68 292.3 363.52 295.73 364 297 C364.48 298.27 364.6 297.8 365 297.8 C365.4 297.8 365.85 296.57 366.4 297 C366.95 297.43 367.77 298.68 368.3 300.4 C368.83 302.12 369.27 305.2 369.6 307.3 C369.93 309.4 370.03 311.1 370.3 313 C370.57 314.9 370.67 316.98 371.2 318.7 C371.73 320.42 372.73 321.97 373.5 323.3 C374.27 324.63 374.93 325.65 375.8 326.7 C376.67 327.75 377.75 328.78 378.7 329.6 C379.65 330.42 380.53 331.07 381.5 331.6 C382.47 332.13 384 332.6 384.5 332.8" fill="none" stroke="#8c173f" stroke-width="1.25" stroke-linejoin="round"/>
<path d="M60.5 420.8 C60.88 419.43 62.2 416.85 62.8 412.6 C63.4 408.35 63.78 400.9 64.1 395.3 C64.42 389.7 64.47 383.85 64.7 379 C64.93 374.15 65.25 370.2 65.5 366.2 C65.75 362.2 65.98 357.87 66.2 355 C66.42 352.13 66.62 350.5 66.8 349 C66.98 347.5 67.12 346 67.3 346 C67.48 346 67.7 347.5 67.9 349 C68.1 350.5 68.28 352.13 68.5 355 C68.72 357.87 68.95 363.08 69.2 366.2 C69.45 369.32 69.77 371.73 70 373.7 C70.23 375.67 70.37 375.83 70.6 378 C70.83 380.17 71.03 383.38 71.4 386.7 C71.77 390.02 72.28 394.3 72.8 397.9 C73.32 401.5 73.88 405.27 74.5 408.3 C75.12 411.33 75.83 414.23 76.5 416.1 C77.17 417.97 77.92 418.72 78.5 419.5 C79.08 420.28 79.75 420.58 80 420.8 Z" fill="#c8cbe0" stroke="none"/>
<path d="M60.5 420.8 C60.88 419.43 62.2 416.85 62.8 412.6 C63.4 408.35 63.78 400.9 64.1 395.3 C64.42 389.7 64.47 383.85 64.7 379 C64.93 374.15 65.25 370.2 65.5 366.2 C65.75 362.2 65.98 357.87 66.2 355 C66.42 352.13 66.62 350.5 66.8 349 C66.98 347.5 67.12 346 67.3 346 C67.48 346 67.7 347.5 67.9 349 C68.1 350.5 68.28 352.13 68.5 355 C68.72 357.87 68.95 363.08 69.2 366.2 C69.45 369.32 69.77 371.73 70 373.7 C70.23 375.67 70.37 375.83 70.6 378 C70.83 380.17 71.03 383.38 71.4 386.7 C71.77 390.02 72.28 394.3 72.8 397.9 C73.32 401.5 73.88 405.27 74.5 408.3 C75.12 411.33 75.83 414.23 76.5 416.1 C77.17 417.97 77.92 418.72 78.5 419.5 C79.08 420.28 79.75 420.58 80 420.8" fill="none" stroke="#344468" stroke-width="1.2" stroke-linejoin="round"/>
<path d="M60.2 420.8 C60.35 420.45 60.73 420.78 61.1 418.7 C61.47 416.62 61.97 412.92 62.4 408.3 C62.83 403.68 63.37 395.88 63.7 391 C64.03 386.12 64.17 383.13 64.4 379 C64.63 374.87 64.87 370.2 65.1 366.2 C65.33 362.2 65.48 358 65.8 355 C66.12 352 66.55 349.08 67 348.2 C67.45 347.32 68 349.52 68.5 349.7 C69 349.88 69.57 349.48 70 349.3 C70.43 349.12 70.73 348.28 71.1 348.6 C71.47 348.92 71.95 349.52 72.2 351.2 C72.45 352.88 72.42 356.2 72.6 358.7 C72.78 361.2 73 363.83 73.3 366.2 C73.6 368.57 73.9 371.27 74.4 372.9 C74.9 374.53 75.87 375.15 76.3 376 C76.73 376.85 76.68 376.22 77 378 C77.32 379.78 77.77 383.82 78.2 386.7 C78.63 389.58 79 392.85 79.6 395.3 C80.2 397.75 81.07 399.38 81.8 401.4 C82.53 403.42 83.2 405.82 84 407.4 C84.8 408.98 85.73 409.75 86.6 410.9 C87.47 412.05 88.27 413.15 89.2 414.3 C90.13 415.45 91.12 416.85 92.2 417.8 C93.28 418.75 94.82 419.5 95.7 420 C96.58 420.5 97.2 420.67 97.5 420.8" fill="none" stroke="#e8507f" stroke-width="3.4" stroke-linejoin="round" stroke-opacity="0.18"/>
<path d="M60.2 420.8 C60.35 420.45 60.73 420.78 61.1 418.7 C61.47 416.62 61.97 412.92 62.4 408.3 C62.83 403.68 63.37 395.88 63.7 391 C64.03 386.12 64.17 383.13 64.4 379 C64.63 374.87 64.87 370.2 65.1 366.2 C65.33 362.2 65.48 358 65.8 355 C66.12 352 66.55 349.08 67 348.2 C67.45 347.32 68 349.52 68.5 349.7 C69 349.88 69.57 349.48 70 349.3 C70.43 349.12 70.73 348.28 71.1 348.6 C71.47 348.92 71.95 349.52 72.2 351.2 C72.45 352.88 72.42 356.2 72.6 358.7 C72.78 361.2 73 363.83 73.3 366.2 C73.6 368.57 73.9 371.27 74.4 372.9 C74.9 374.53 75.87 375.15 76.3 376 C76.73 376.85 76.68 376.22 77 378 C77.32 379.78 77.77 383.82 78.2 386.7 C78.63 389.58 79 392.85 79.6 395.3 C80.2 397.75 81.07 399.38 81.8 401.4 C82.53 403.42 83.2 405.82 84 407.4 C84.8 408.98 85.73 409.75 86.6 410.9 C87.47 412.05 88.27 413.15 89.2 414.3 C90.13 415.45 91.12 416.85 92.2 417.8 C93.28 418.75 94.82 419.5 95.7 420 C96.58 420.5 97.2 420.67 97.5 420.8" fill="none" stroke="#8c173f" stroke-width="1.25" stroke-linejoin="round"/>
<path d="M201 420.8 C201.25 419.97 202.03 418.73 202.5 415.8 C202.97 412.87 203.45 407.4 203.8 403.2 C204.15 399 204.38 394.47 204.6 390.6 C204.82 386.73 204.93 383.95 205.1 380 C205.27 376.05 205.42 371 205.6 366.9 C205.78 362.8 206 358.38 206.2 355.4 C206.4 352.42 206.62 350.6 206.8 349 C206.98 347.4 207.12 345.88 207.3 345.8 C207.48 345.72 207.72 347.55 207.9 348.5 C208.08 349.45 208.13 349.07 208.4 351.5 C208.67 353.93 209.08 359.25 209.5 363.1 C209.92 366.95 210.55 371.78 210.9 374.6 C211.25 377.42 211.37 378.03 211.6 380 C211.83 381.97 212.03 383.93 212.3 386.4 C212.57 388.87 212.87 392 213.2 394.8 C213.53 397.6 213.83 400.4 214.3 403.2 C214.77 406 215.37 409.35 216 411.6 C216.63 413.85 217.23 415.3 218.1 416.7 C218.97 418.1 220.35 419.32 221.2 420 C222.05 420.68 222.87 420.67 223.2 420.8 Z" fill="#c8cbe0" stroke="none"/>
<path d="M201 420.8 C201.25 419.97 202.03 418.73 202.5 415.8 C202.97 412.87 203.45 407.4 203.8 403.2 C204.15 399 204.38 394.47 204.6 390.6 C204.82 386.73 204.93 383.95 205.1 380 C205.27 376.05 205.42 371 205.6 366.9 C205.78 362.8 206 358.38 206.2 355.4 C206.4 352.42 206.62 350.6 206.8 349 C206.98 347.4 207.12 345.88 207.3 345.8 C207.48 345.72 207.72 347.55 207.9 348.5 C208.08 349.45 208.13 349.07 208.4 351.5 C208.67 353.93 209.08 359.25 209.5 363.1 C209.92 366.95 210.55 371.78 210.9 374.6 C211.25 377.42 211.37 378.03 211.6 380 C211.83 381.97 212.03 383.93 212.3 386.4 C212.57 388.87 212.87 392 213.2 394.8 C213.53 397.6 213.83 400.4 214.3 403.2 C214.77 406 215.37 409.35 216 411.6 C216.63 413.85 217.23 415.3 218.1 416.7 C218.97 418.1 220.35 419.32 221.2 420 C222.05 420.68 222.87 420.67 223.2 420.8" fill="none" stroke="#344468" stroke-width="1.2" stroke-linejoin="round"/>
<path d="M201 420.8 C201.25 419.97 202.03 418.73 202.5 415.8 C202.97 412.87 203.45 407.4 203.8 403.2 C204.15 399 204.38 394.47 204.6 390.6 C204.82 386.73 204.93 383.95 205.1 380 C205.27 376.05 205.42 371 205.6 366.9 C205.78 362.8 206 358.38 206.2 355.4 C206.4 352.42 206.62 350.53 206.8 349 C206.98 347.47 207.12 346.28 207.3 346.2 C207.48 346.12 207.72 347.62 207.9 348.5 C208.08 349.38 208.13 349.07 208.4 351.5 C208.67 353.93 209.08 359.25 209.5 363.1 C209.92 366.95 210.55 371.78 210.9 374.6 C211.25 377.42 211.37 378.03 211.6 380 C211.83 381.97 212.03 383.93 212.3 386.4 C212.57 388.87 212.87 392 213.2 394.8 C213.53 397.6 213.83 400.4 214.3 403.2 C214.77 406 215.37 409.35 216 411.6 C216.63 413.85 217.23 415.3 218.1 416.7 C218.97 418.1 220.35 419.32 221.2 420 C222.05 420.68 222.87 420.67 223.2 420.8" fill="none" stroke="#e8507f" stroke-width="3.4" stroke-linejoin="round" stroke-opacity="0.18"/>
<path d="M201 420.8 C201.25 419.97 202.03 418.73 202.5 415.8 C202.97 412.87 203.45 407.4 203.8 403.2 C204.15 399 204.38 394.47 204.6 390.6 C204.82 386.73 204.93 383.95 205.1 380 C205.27 376.05 205.42 371 205.6 366.9 C205.78 362.8 206 358.38 206.2 355.4 C206.4 352.42 206.62 350.53 206.8 349 C206.98 347.47 207.12 346.28 207.3 346.2 C207.48 346.12 207.72 347.62 207.9 348.5 C208.08 349.38 208.13 349.07 208.4 351.5 C208.67 353.93 209.08 359.25 209.5 363.1 C209.92 366.95 210.55 371.78 210.9 374.6 C211.25 377.42 211.37 378.03 211.6 380 C211.83 381.97 212.03 383.93 212.3 386.4 C212.57 388.87 212.87 392 213.2 394.8 C213.53 397.6 213.83 400.4 214.3 403.2 C214.77 406 215.37 409.35 216 411.6 C216.63 413.85 217.23 415.3 218.1 416.7 C218.97 418.1 220.35 419.32 221.2 420 C222.05 420.68 222.87 420.67 223.2 420.8" fill="none" stroke="#8c173f" stroke-width="1.25" stroke-linejoin="round"/>
<path d="M341.3 420.8 C341.58 419.97 342.52 418.73 343 415.8 C343.48 412.87 343.85 407.4 344.2 403.2 C344.55 399 344.83 394.47 345.1 390.6 C345.37 386.73 345.55 383.95 345.8 380 C346.05 376.05 346.32 371 346.6 366.9 C346.88 362.8 347.3 358.38 347.5 355.4 C347.7 352.42 347.68 350.67 347.8 349 C347.92 347.33 348.05 345.4 348.2 345.4 C348.35 345.4 348.48 347.33 348.7 349 C348.92 350.67 349.18 352.42 349.5 355.4 C349.82 358.38 350.18 363.13 350.6 366.9 C351.02 370.67 351.55 374.05 352 378 C352.45 381.95 352.87 386.68 353.3 390.6 C353.73 394.52 354.07 398.28 354.6 401.5 C355.13 404.72 355.72 407.52 356.5 409.9 C357.28 412.28 358.33 414.25 359.3 415.8 C360.27 417.35 361.35 418.37 362.3 419.2 C363.25 420.03 364.55 420.53 365 420.8 Z" fill="#c8cbe0" stroke="none"/>
<path d="M341.3 420.8 C341.58 419.97 342.52 418.73 343 415.8 C343.48 412.87 343.85 407.4 344.2 403.2 C344.55 399 344.83 394.47 345.1 390.6 C345.37 386.73 345.55 383.95 345.8 380 C346.05 376.05 346.32 371 346.6 366.9 C346.88 362.8 347.3 358.38 347.5 355.4 C347.7 352.42 347.68 350.67 347.8 349 C347.92 347.33 348.05 345.4 348.2 345.4 C348.35 345.4 348.48 347.33 348.7 349 C348.92 350.67 349.18 352.42 349.5 355.4 C349.82 358.38 350.18 363.13 350.6 366.9 C351.02 370.67 351.55 374.05 352 378 C352.45 381.95 352.87 386.68 353.3 390.6 C353.73 394.52 354.07 398.28 354.6 401.5 C355.13 404.72 355.72 407.52 356.5 409.9 C357.28 412.28 358.33 414.25 359.3 415.8 C360.27 417.35 361.35 418.37 362.3 419.2 C363.25 420.03 364.55 420.53 365 420.8" fill="none" stroke="#344468" stroke-width="1.2" stroke-linejoin="round"/>
<path d="M341.3 420.8 C341.58 419.97 342.52 418.73 343 415.8 C343.48 412.87 343.85 407.4 344.2 403.2 C344.55 399 344.83 394.47 345.1 390.6 C345.37 386.73 345.55 383.95 345.8 380 C346.05 376.05 346.32 371 346.6 366.9 C346.88 362.8 347.32 357.72 347.5 355.4 C347.68 353.08 347.58 353.82 347.7 353 C347.82 352.18 348.02 350.5 348.2 350.5 C348.38 350.5 348.58 352.18 348.8 353 C349.02 353.82 349.2 353.08 349.5 355.4 C349.8 357.72 350.18 363.13 350.6 366.9 C351.02 370.67 351.55 374.05 352 378 C352.45 381.95 352.87 386.68 353.3 390.6 C353.73 394.52 354.07 398.28 354.6 401.5 C355.13 404.72 355.72 407.52 356.5 409.9 C357.28 412.28 358.33 414.25 359.3 415.8 C360.27 417.35 361.35 418.37 362.3 419.2 C363.25 420.03 364.55 420.53 365 420.8" fill="none" stroke="#e8507f" stroke-width="3.4" stroke-linejoin="round" stroke-opacity="0.18"/>
<path d="M341.3 420.8 C341.58 419.97 342.52 418.73 343 415.8 C343.48 412.87 343.85 407.4 344.2 403.2 C344.55 399 344.83 394.47 345.1 390.6 C345.37 386.73 345.55 383.95 345.8 380 C346.05 376.05 346.32 371 346.6 366.9 C346.88 362.8 347.32 357.72 347.5 355.4 C347.68 353.08 347.58 353.82 347.7 353 C347.82 352.18 348.02 350.5 348.2 350.5 C348.38 350.5 348.58 352.18 348.8 353 C349.02 353.82 349.2 353.08 349.5 355.4 C349.8 357.72 350.18 363.13 350.6 366.9 C351.02 370.67 351.55 374.05 352 378 C352.45 381.95 352.87 386.68 353.3 390.6 C353.73 394.52 354.07 398.28 354.6 401.5 C355.13 404.72 355.72 407.52 356.5 409.9 C357.28 412.28 358.33 414.25 359.3 415.8 C360.27 417.35 361.35 418.37 362.3 419.2 C363.25 420.03 364.55 420.53 365 420.8" fill="none" stroke="#8c173f" stroke-width="1.25" stroke-linejoin="round"/>
<path d="M64.3 508.7 C64.63 508.17 65.63 506.95 66.3 505.5 C66.97 504.05 67.78 501.92 68.3 500 C68.82 498.08 69.1 497.43 69.4 494 C69.7 490.57 69.85 483.9 70.1 479.4 C70.35 474.9 70.65 471.2 70.9 467 C71.15 462.8 71.37 458.2 71.6 454.2 C71.83 450.2 72.1 445.7 72.3 443 C72.5 440.3 72.63 439.32 72.8 438 C72.97 436.68 73.07 435.18 73.3 435.1 C73.53 435.02 73.92 436.68 74.2 437.5 C74.48 438.32 74.68 438.47 75 440 C75.32 441.53 75.73 443.72 76.1 446.7 C76.47 449.68 76.92 454.85 77.2 457.9 C77.48 460.95 77.47 461.73 77.8 465 C78.13 468.27 78.52 473.5 79.2 477.5 C79.88 481.5 81.15 485.75 81.9 489 C82.65 492.25 83.02 494.72 83.7 497 C84.38 499.28 85.2 501.27 86 502.7 C86.8 504.13 87.67 504.82 88.5 505.6 C89.33 506.38 90.22 506.88 91 507.4 C91.78 507.92 92.83 508.48 93.2 508.7 Z" fill="#c8cbe0" stroke="none"/>
<path d="M64.3 508.7 C64.63 508.17 65.63 506.95 66.3 505.5 C66.97 504.05 67.78 501.92 68.3 500 C68.82 498.08 69.1 497.43 69.4 494 C69.7 490.57 69.85 483.9 70.1 479.4 C70.35 474.9 70.65 471.2 70.9 467 C71.15 462.8 71.37 458.2 71.6 454.2 C71.83 450.2 72.1 445.7 72.3 443 C72.5 440.3 72.63 439.32 72.8 438 C72.97 436.68 73.07 435.18 73.3 435.1 C73.53 435.02 73.92 436.68 74.2 437.5 C74.48 438.32 74.68 438.47 75 440 C75.32 441.53 75.73 443.72 76.1 446.7 C76.47 449.68 76.92 454.85 77.2 457.9 C77.48 460.95 77.47 461.73 77.8 465 C78.13 468.27 78.52 473.5 79.2 477.5 C79.88 481.5 81.15 485.75 81.9 489 C82.65 492.25 83.02 494.72 83.7 497 C84.38 499.28 85.2 501.27 86 502.7 C86.8 504.13 87.67 504.82 88.5 505.6 C89.33 506.38 90.22 506.88 91 507.4 C91.78 507.92 92.83 508.48 93.2 508.7" fill="none" stroke="#344468" stroke-width="1.2" stroke-linejoin="round"/>
<path d="M64.5 508.7 C64.85 508.17 65.92 506.95 66.6 505.5 C67.28 504.05 67.98 501.95 68.6 500 C69.22 498.05 69.65 497.23 70.3 493.8 C70.95 490.37 71.95 483.95 72.5 479.4 C73.05 474.85 73.25 470.7 73.6 466.5 C73.95 462.3 74.32 457.5 74.6 454.2 C74.88 450.9 75.03 448.65 75.3 446.7 C75.57 444.75 75.88 443.5 76.2 442.5 C76.52 441.5 76.85 440.37 77.2 440.7 C77.55 441.03 77.87 442.63 78.3 444.5 C78.73 446.37 79.3 449.28 79.8 451.9 C80.3 454.52 80.85 457.85 81.3 460.2 C81.75 462.55 82.12 463.6 82.5 466 C82.88 468.4 83.02 472.2 83.6 474.6 C84.18 477 85.2 478.63 86 480.4 C86.8 482.17 87.6 483.92 88.4 485.2 C89.2 486.48 90.08 486.98 90.8 488.1 C91.52 489.22 91.9 490.62 92.7 491.9 C93.5 493.18 94.63 494.52 95.6 495.8 C96.57 497.08 97.55 498.4 98.5 499.6 C99.45 500.8 100.38 502.05 101.3 503 C102.22 503.95 102.98 504.62 104 505.3 C105.02 505.98 106.15 506.53 107.4 507.1 C108.65 507.67 110.82 508.43 111.5 508.7" fill="none" stroke="#e8507f" stroke-width="3.4" stroke-linejoin="round" stroke-opacity="0.18"/>
<path d="M64.5 508.7 C64.85 508.17 65.92 506.95 66.6 505.5 C67.28 504.05 67.98 501.95 68.6 500 C69.22 498.05 69.65 497.23 70.3 493.8 C70.95 490.37 71.95 483.95 72.5 479.4 C73.05 474.85 73.25 470.7 73.6 466.5 C73.95 462.3 74.32 457.5 74.6 454.2 C74.88 450.9 75.03 448.65 75.3 446.7 C75.57 444.75 75.88 443.5 76.2 442.5 C76.52 441.5 76.85 440.37 77.2 440.7 C77.55 441.03 77.87 442.63 78.3 444.5 C78.73 446.37 79.3 449.28 79.8 451.9 C80.3 454.52 80.85 457.85 81.3 460.2 C81.75 462.55 82.12 463.6 82.5 466 C82.88 468.4 83.02 472.2 83.6 474.6 C84.18 477 85.2 478.63 86 480.4 C86.8 482.17 87.6 483.92 88.4 485.2 C89.2 486.48 90.08 486.98 90.8 488.1 C91.52 489.22 91.9 490.62 92.7 491.9 C93.5 493.18 94.63 494.52 95.6 495.8 C96.57 497.08 97.55 498.4 98.5 499.6 C99.45 500.8 100.38 502.05 101.3 503 C102.22 503.95 102.98 504.62 104 505.3 C105.02 505.98 106.15 506.53 107.4 507.1 C108.65 507.67 110.82 508.43 111.5 508.7" fill="none" stroke="#8c173f" stroke-width="1.25" stroke-linejoin="round"/>
<path d="M206.1 508.7 C206.4 507.75 207.37 505.78 207.9 503 C208.43 500.22 208.92 496 209.3 492 C209.68 488 209.92 483.17 210.2 479 C210.48 474.83 210.73 471.02 211 467 C211.27 462.98 211.52 458.83 211.8 454.9 C212.08 450.97 212.45 446.38 212.7 443.4 C212.95 440.42 213.12 438.67 213.3 437 C213.48 435.33 213.62 433.4 213.8 433.4 C213.98 433.4 214.13 435.33 214.4 437 C214.67 438.67 214.98 440.42 215.4 443.4 C215.82 446.38 216.42 450.97 216.9 454.9 C217.38 458.83 217.87 463.58 218.3 467 C218.73 470.42 219.02 472.13 219.5 475.4 C219.98 478.67 220.63 483.28 221.2 486.6 C221.77 489.92 222.25 492.7 222.9 495.3 C223.55 497.9 224.3 500.47 225.1 502.2 C225.9 503.93 226.83 504.77 227.7 505.7 C228.57 506.63 229.42 507.3 230.3 507.8 C231.18 508.3 232.55 508.55 233 508.7 Z" fill="#c8cbe0" stroke="none"/>
<path d="M206.1 508.7 C206.4 507.75 207.37 505.78 207.9 503 C208.43 500.22 208.92 496 209.3 492 C209.68 488 209.92 483.17 210.2 479 C210.48 474.83 210.73 471.02 211 467 C211.27 462.98 211.52 458.83 211.8 454.9 C212.08 450.97 212.45 446.38 212.7 443.4 C212.95 440.42 213.12 438.67 213.3 437 C213.48 435.33 213.62 433.4 213.8 433.4 C213.98 433.4 214.13 435.33 214.4 437 C214.67 438.67 214.98 440.42 215.4 443.4 C215.82 446.38 216.42 450.97 216.9 454.9 C217.38 458.83 217.87 463.58 218.3 467 C218.73 470.42 219.02 472.13 219.5 475.4 C219.98 478.67 220.63 483.28 221.2 486.6 C221.77 489.92 222.25 492.7 222.9 495.3 C223.55 497.9 224.3 500.47 225.1 502.2 C225.9 503.93 226.83 504.77 227.7 505.7 C228.57 506.63 229.42 507.3 230.3 507.8 C231.18 508.3 232.55 508.55 233 508.7" fill="none" stroke="#344468" stroke-width="1.2" stroke-linejoin="round"/>
<path d="M206.1 508.7 C206.4 507.75 207.37 505.78 207.9 503 C208.43 500.22 208.92 496 209.3 492 C209.68 488 209.92 483.17 210.2 479 C210.48 474.83 210.73 471.02 211 467 C211.27 462.98 211.55 458.4 211.8 454.9 C212.05 451.4 212.17 448.05 212.5 446 C212.83 443.95 213.38 442.68 213.8 442.6 C214.22 442.52 214.48 443.45 215 445.5 C215.52 447.55 216.35 451.32 216.9 454.9 C217.45 458.48 217.87 463.58 218.3 467 C218.73 470.42 219.02 472.13 219.5 475.4 C219.98 478.67 220.63 483.28 221.2 486.6 C221.77 489.92 222.25 493.13 222.9 495.3 C223.55 497.47 224.3 498.3 225.1 499.6 C225.9 500.9 226.55 502.08 227.7 503.1 C228.85 504.12 230.57 504.98 232 505.7 C233.43 506.42 235.05 506.9 236.3 507.4 C237.55 507.9 238.97 508.48 239.5 508.7" fill="none" stroke="#e8507f" stroke-width="3.4" stroke-linejoin="round" stroke-opacity="0.18"/>
<path d="M206.1 508.7 C206.4 507.75 207.37 505.78 207.9 503 C208.43 500.22 208.92 496 209.3 492 C209.68 488 209.92 483.17 210.2 479 C210.48 474.83 210.73 471.02 211 467 C211.27 462.98 211.55 458.4 211.8 454.9 C212.05 451.4 212.17 448.05 212.5 446 C212.83 443.95 213.38 442.68 213.8 442.6 C214.22 442.52 214.48 443.45 215 445.5 C215.52 447.55 216.35 451.32 216.9 454.9 C217.45 458.48 217.87 463.58 218.3 467 C218.73 470.42 219.02 472.13 219.5 475.4 C219.98 478.67 220.63 483.28 221.2 486.6 C221.77 489.92 222.25 493.13 222.9 495.3 C223.55 497.47 224.3 498.3 225.1 499.6 C225.9 500.9 226.55 502.08 227.7 503.1 C228.85 504.12 230.57 504.98 232 505.7 C233.43 506.42 235.05 506.9 236.3 507.4 C237.55 507.9 238.97 508.48 239.5 508.7" fill="none" stroke="#8c173f" stroke-width="1.25" stroke-linejoin="round"/>
<path d="M346.5 508.7 C346.87 507.47 348.12 504.25 348.7 501.3 C349.28 498.35 349.57 494.88 350 491 C350.43 487.12 350.98 482 351.3 478 C351.62 474 351.72 470.47 351.9 467 C352.08 463.53 352.27 460.5 352.4 457.2 C352.53 453.9 352.52 450.07 352.7 447.2 C352.88 444.33 353.2 442.12 353.5 440 C353.8 437.88 354.18 434.5 354.5 434.5 C354.82 434.5 355.12 438.27 355.4 440 C355.68 441.73 355.88 442.42 356.2 444.9 C356.52 447.38 357 451.22 357.3 454.9 C357.6 458.58 357.78 463.58 358 467 C358.22 470.42 358.2 472.13 358.6 475.4 C359 478.67 359.85 483.28 360.4 486.6 C360.95 489.92 361.23 492.85 361.9 495.3 C362.57 497.75 363.48 499.57 364.4 501.3 C365.32 503.03 366.45 504.47 367.4 505.7 C368.35 506.93 369.65 508.2 370.1 508.7 Z" fill="#c8cbe0" stroke="none"/>
<path d="M346.5 508.7 C346.87 507.47 348.12 504.25 348.7 501.3 C349.28 498.35 349.57 494.88 350 491 C350.43 487.12 350.98 482 351.3 478 C351.62 474 351.72 470.47 351.9 467 C352.08 463.53 352.27 460.5 352.4 457.2 C352.53 453.9 352.52 450.07 352.7 447.2 C352.88 444.33 353.2 442.12 353.5 440 C353.8 437.88 354.18 434.5 354.5 434.5 C354.82 434.5 355.12 438.27 355.4 440 C355.68 441.73 355.88 442.42 356.2 444.9 C356.52 447.38 357 451.22 357.3 454.9 C357.6 458.58 357.78 463.58 358 467 C358.22 470.42 358.2 472.13 358.6 475.4 C359 478.67 359.85 483.28 360.4 486.6 C360.95 489.92 361.23 492.85 361.9 495.3 C362.57 497.75 363.48 499.57 364.4 501.3 C365.32 503.03 366.45 504.47 367.4 505.7 C368.35 506.93 369.65 508.2 370.1 508.7" fill="none" stroke="#344468" stroke-width="1.2" stroke-linejoin="round"/>
<path d="M346.5 508.7 C346.87 507.47 348.12 504.25 348.7 501.3 C349.28 498.35 349.57 494.88 350 491 C350.43 487.12 350.98 482 351.3 478 C351.62 474 351.72 470.47 351.9 467 C352.08 463.53 352.28 460.45 352.4 457.2 C352.52 453.95 352.37 450.07 352.6 447.5 C352.83 444.93 353.35 442.3 353.8 441.8 C354.25 441.3 354.9 443.63 355.3 444.5 C355.7 445.37 355.87 445.27 356.2 447 C356.53 448.73 357 451.57 357.3 454.9 C357.6 458.23 357.78 463.58 358 467 C358.22 470.42 358.2 472.13 358.6 475.4 C359 478.67 359.75 483.28 360.4 486.6 C361.05 489.92 361.72 492.85 362.5 495.3 C363.28 497.75 364.17 499.57 365.1 501.3 C366.03 503.03 367.17 504.62 368.1 505.7 C369.03 506.78 370.03 507.3 370.7 507.8 C371.37 508.3 371.87 508.55 372.1 508.7" fill="none" stroke="#e8507f" stroke-width="3.4" stroke-linejoin="round" stroke-opacity="0.18"/>
<path d="M346.5 508.7 C346.87 507.47 348.12 504.25 348.7 501.3 C349.28 498.35 349.57 494.88 350 491 C350.43 487.12 350.98 482 351.3 478 C351.62 474 351.72 470.47 351.9 467 C352.08 463.53 352.28 460.45 352.4 457.2 C352.52 453.95 352.37 450.07 352.6 447.5 C352.83 444.93 353.35 442.3 353.8 441.8 C354.25 441.3 354.9 443.63 355.3 444.5 C355.7 445.37 355.87 445.27 356.2 447 C356.53 448.73 357 451.57 357.3 454.9 C357.6 458.23 357.78 463.58 358 467 C358.22 470.42 358.2 472.13 358.6 475.4 C359 478.67 359.75 483.28 360.4 486.6 C361.05 489.92 361.72 492.85 362.5 495.3 C363.28 497.75 364.17 499.57 365.1 501.3 C366.03 503.03 367.17 504.62 368.1 505.7 C369.03 506.78 370.03 507.3 370.7 507.8 C371.37 508.3 371.87 508.55 372.1 508.7" fill="none" stroke="#8c173f" stroke-width="1.25" stroke-linejoin="round"/>
<path d="M31.7 252.8H34.9 M33 256.8H34.9 M33 260.8H34.9 M33 264.8H34.9 M31.7 268.8H34.9 M33 272.8H34.9 M33 276.8H34.9 M33 280.8H34.9 M31.7 284.8H34.9 M33 288.8H34.9 M33 292.8H34.9 M33 296.8H34.9 M31.7 300.8H34.9 M33 304.8H34.9 M33 308.8H34.9 M33 312.8H34.9 M31.7 316.8H34.9 M33 320.8H34.9 M33 324.8H34.9 M33 328.8H34.9 M31.7 332.8H34.9 M40.9 332.8V336.4 M61.2 332.8V336.4 M88 332.8V336.4 M124.4 332.8V336.4 M155.5 332.8V336.4 M43.14 332.8V335.1 M45.39 332.8V335.1 M47.63 332.8V335.1 M49.87 332.8V335.1 M52.11 332.8V335.1 M54.36 332.8V335.1 M56.6 332.8V335.1 M58.84 332.8V335.1 M63.33 332.8V335.1 M65.57 332.8V335.1 M67.81 332.8V335.1 M70.06 332.8V335.1 M72.3 332.8V335.1 M74.54 332.8V335.1 M76.79 332.8V335.1 M79.03 332.8V335.1 M81.27 332.8V335.1 M83.51 332.8V335.1 M85.76 332.8V335.1 M98.96 332.8V335.1 M105.37 332.8V335.1 M109.91 332.8V335.1 M113.44 332.8V335.1 M116.32 332.8V335.1 M118.76 332.8V335.1 M120.87 332.8V335.1 M122.73 332.8V335.1 M133.76 332.8V335.1 M139.24 332.8V335.1 M143.12 332.8V335.1 M146.14 332.8V335.1 M148.6 332.8V335.1 M150.68 332.8V335.1 M152.49 332.8V335.1 M154.08 332.8V335.1 M164.86 332.8V335.1" stroke="#111" stroke-width="1.25" fill="none"/>
<rect x="34.9" y="252.8" width="133.8" height="80" fill="none" stroke="#111" stroke-width="1.7"/>
<path d="M171.9 252.8H175.1 M173.2 256.8H175.1 M173.2 260.8H175.1 M173.2 264.8H175.1 M171.9 268.8H175.1 M173.2 272.8H175.1 M173.2 276.8H175.1 M173.2 280.8H175.1 M171.9 284.8H175.1 M173.2 288.8H175.1 M173.2 292.8H175.1 M173.2 296.8H175.1 M171.9 300.8H175.1 M173.2 304.8H175.1 M173.2 308.8H175.1 M173.2 312.8H175.1 M171.9 316.8H175.1 M173.2 320.8H175.1 M173.2 324.8H175.1 M173.2 328.8H175.1 M171.9 332.8H175.1 M181.1 332.8V336.4 M201.4 332.8V336.4 M228.2 332.8V336.4 M264.6 332.8V336.4 M295.7 332.8V336.4 M183.34 332.8V335.1 M185.59 332.8V335.1 M187.83 332.8V335.1 M190.07 332.8V335.1 M192.31 332.8V335.1 M194.56 332.8V335.1 M196.8 332.8V335.1 M199.04 332.8V335.1 M203.53 332.8V335.1 M205.77 332.8V335.1 M208.01 332.8V335.1 M210.26 332.8V335.1 M212.5 332.8V335.1 M214.74 332.8V335.1 M216.99 332.8V335.1 M219.23 332.8V335.1 M221.47 332.8V335.1 M223.71 332.8V335.1 M225.96 332.8V335.1 M239.16 332.8V335.1 M245.57 332.8V335.1 M250.11 332.8V335.1 M253.64 332.8V335.1 M256.52 332.8V335.1 M258.96 332.8V335.1 M261.07 332.8V335.1 M262.93 332.8V335.1 M273.96 332.8V335.1 M279.44 332.8V335.1 M283.32 332.8V335.1 M286.34 332.8V335.1 M288.8 332.8V335.1 M290.88 332.8V335.1 M292.69 332.8V335.1 M294.28 332.8V335.1 M305.06 332.8V335.1" stroke="#111" stroke-width="1.25" fill="none"/>
<rect x="175.1" y="252.8" width="133.8" height="80" fill="none" stroke="#111" stroke-width="1.7"/>
<path d="M312.2 252.8H315.4 M313.5 256.8H315.4 M313.5 260.8H315.4 M313.5 264.8H315.4 M312.2 268.8H315.4 M313.5 272.8H315.4 M313.5 276.8H315.4 M313.5 280.8H315.4 M312.2 284.8H315.4 M313.5 288.8H315.4 M313.5 292.8H315.4 M313.5 296.8H315.4 M312.2 300.8H315.4 M313.5 304.8H315.4 M313.5 308.8H315.4 M313.5 312.8H315.4 M312.2 316.8H315.4 M313.5 320.8H315.4 M313.5 324.8H315.4 M313.5 328.8H315.4 M312.2 332.8H315.4 M321.4 332.8V336.4 M341.7 332.8V336.4 M368.5 332.8V336.4 M404.9 332.8V336.4 M436 332.8V336.4 M323.64 332.8V335.1 M325.89 332.8V335.1 M328.13 332.8V335.1 M330.37 332.8V335.1 M332.61 332.8V335.1 M334.86 332.8V335.1 M337.1 332.8V335.1 M339.34 332.8V335.1 M343.83 332.8V335.1 M346.07 332.8V335.1 M348.31 332.8V335.1 M350.56 332.8V335.1 M352.8 332.8V335.1 M355.04 332.8V335.1 M357.29 332.8V335.1 M359.53 332.8V335.1 M361.77 332.8V335.1 M364.01 332.8V335.1 M366.26 332.8V335.1 M379.46 332.8V335.1 M385.87 332.8V335.1 M390.41 332.8V335.1 M393.94 332.8V335.1 M396.82 332.8V335.1 M399.26 332.8V335.1 M401.37 332.8V335.1 M403.23 332.8V335.1 M414.26 332.8V335.1 M419.74 332.8V335.1 M423.62 332.8V335.1 M426.64 332.8V335.1 M429.1 332.8V335.1 M431.18 332.8V335.1 M432.99 332.8V335.1 M434.58 332.8V335.1 M445.36 332.8V335.1" stroke="#111" stroke-width="1.25" fill="none"/>
<rect x="315.4" y="252.8" width="133.8" height="80" fill="none" stroke="#111" stroke-width="1.7"/>
<path d="M31.7 340.8H34.9 M33 344.8H34.9 M33 348.8H34.9 M33 352.8H34.9 M31.7 356.8H34.9 M33 360.8H34.9 M33 364.8H34.9 M33 368.8H34.9 M31.7 372.8H34.9 M33 376.8H34.9 M33 380.8H34.9 M33 384.8H34.9 M31.7 388.8H34.9 M33 392.8H34.9 M33 396.8H34.9 M33 400.8H34.9 M31.7 404.8H34.9 M33 408.8H34.9 M33 412.8H34.9 M33 416.8H34.9 M31.7 420.8H34.9 M40.9 420.8V424.4 M61.2 420.8V424.4 M88 420.8V424.4 M124.4 420.8V424.4 M155.5 420.8V424.4 M43.14 420.8V423.1 M45.39 420.8V423.1 M47.63 420.8V423.1 M49.87 420.8V423.1 M52.11 420.8V423.1 M54.36 420.8V423.1 M56.6 420.8V423.1 M58.84 420.8V423.1 M63.33 420.8V423.1 M65.57 420.8V423.1 M67.81 420.8V423.1 M70.06 420.8V423.1 M72.3 420.8V423.1 M74.54 420.8V423.1 M76.79 420.8V423.1 M79.03 420.8V423.1 M81.27 420.8V423.1 M83.51 420.8V423.1 M85.76 420.8V423.1 M98.96 420.8V423.1 M105.37 420.8V423.1 M109.91 420.8V423.1 M113.44 420.8V423.1 M116.32 420.8V423.1 M118.76 420.8V423.1 M120.87 420.8V423.1 M122.73 420.8V423.1 M133.76 420.8V423.1 M139.24 420.8V423.1 M143.12 420.8V423.1 M146.14 420.8V423.1 M148.6 420.8V423.1 M150.68 420.8V423.1 M152.49 420.8V423.1 M154.08 420.8V423.1 M164.86 420.8V423.1" stroke="#111" stroke-width="1.25" fill="none"/>
<rect x="34.9" y="340.8" width="133.8" height="80" fill="none" stroke="#111" stroke-width="1.7"/>
<path d="M171.9 340.8H175.1 M173.2 344.8H175.1 M173.2 348.8H175.1 M173.2 352.8H175.1 M171.9 356.8H175.1 M173.2 360.8H175.1 M173.2 364.8H175.1 M173.2 368.8H175.1 M171.9 372.8H175.1 M173.2 376.8H175.1 M173.2 380.8H175.1 M173.2 384.8H175.1 M171.9 388.8H175.1 M173.2 392.8H175.1 M173.2 396.8H175.1 M173.2 400.8H175.1 M171.9 404.8H175.1 M173.2 408.8H175.1 M173.2 412.8H175.1 M173.2 416.8H175.1 M171.9 420.8H175.1 M181.1 420.8V424.4 M201.4 420.8V424.4 M228.2 420.8V424.4 M264.6 420.8V424.4 M295.7 420.8V424.4 M183.34 420.8V423.1 M185.59 420.8V423.1 M187.83 420.8V423.1 M190.07 420.8V423.1 M192.31 420.8V423.1 M194.56 420.8V423.1 M196.8 420.8V423.1 M199.04 420.8V423.1 M203.53 420.8V423.1 M205.77 420.8V423.1 M208.01 420.8V423.1 M210.26 420.8V423.1 M212.5 420.8V423.1 M214.74 420.8V423.1 M216.99 420.8V423.1 M219.23 420.8V423.1 M221.47 420.8V423.1 M223.71 420.8V423.1 M225.96 420.8V423.1 M239.16 420.8V423.1 M245.57 420.8V423.1 M250.11 420.8V423.1 M253.64 420.8V423.1 M256.52 420.8V423.1 M258.96 420.8V423.1 M261.07 420.8V423.1 M262.93 420.8V423.1 M273.96 420.8V423.1 M279.44 420.8V423.1 M283.32 420.8V423.1 M286.34 420.8V423.1 M288.8 420.8V423.1 M290.88 420.8V423.1 M292.69 420.8V423.1 M294.28 420.8V423.1 M305.06 420.8V423.1" stroke="#111" stroke-width="1.25" fill="none"/>
<rect x="175.1" y="340.8" width="133.8" height="80" fill="none" stroke="#111" stroke-width="1.7"/>
<path d="M312.2 340.8H315.4 M313.5 344.8H315.4 M313.5 348.8H315.4 M313.5 352.8H315.4 M312.2 356.8H315.4 M313.5 360.8H315.4 M313.5 364.8H315.4 M313.5 368.8H315.4 M312.2 372.8H315.4 M313.5 376.8H315.4 M313.5 380.8H315.4 M313.5 384.8H315.4 M312.2 388.8H315.4 M313.5 392.8H315.4 M313.5 396.8H315.4 M313.5 400.8H315.4 M312.2 404.8H315.4 M313.5 408.8H315.4 M313.5 412.8H315.4 M313.5 416.8H315.4 M312.2 420.8H315.4 M321.4 420.8V424.4 M341.7 420.8V424.4 M368.5 420.8V424.4 M404.9 420.8V424.4 M436 420.8V424.4 M323.64 420.8V423.1 M325.89 420.8V423.1 M328.13 420.8V423.1 M330.37 420.8V423.1 M332.61 420.8V423.1 M334.86 420.8V423.1 M337.1 420.8V423.1 M339.34 420.8V423.1 M343.83 420.8V423.1 M346.07 420.8V423.1 M348.31 420.8V423.1 M350.56 420.8V423.1 M352.8 420.8V423.1 M355.04 420.8V423.1 M357.29 420.8V423.1 M359.53 420.8V423.1 M361.77 420.8V423.1 M364.01 420.8V423.1 M366.26 420.8V423.1 M379.46 420.8V423.1 M385.87 420.8V423.1 M390.41 420.8V423.1 M393.94 420.8V423.1 M396.82 420.8V423.1 M399.26 420.8V423.1 M401.37 420.8V423.1 M403.23 420.8V423.1 M414.26 420.8V423.1 M419.74 420.8V423.1 M423.62 420.8V423.1 M426.64 420.8V423.1 M429.1 420.8V423.1 M431.18 420.8V423.1 M432.99 420.8V423.1 M434.58 420.8V423.1 M445.36 420.8V423.1" stroke="#111" stroke-width="1.25" fill="none"/>
<rect x="315.4" y="340.8" width="133.8" height="80" fill="none" stroke="#111" stroke-width="1.7"/>
<path d="M31.7 428.8H34.9 M33 432.8H34.9 M33 436.79H34.9 M33 440.79H34.9 M31.7 444.78H34.9 M33 448.78H34.9 M33 452.77H34.9 M33 456.77H34.9 M31.7 460.76H34.9 M33 464.75H34.9 M33 468.75H34.9 M33 472.75H34.9 M31.7 476.74H34.9 M33 480.74H34.9 M33 484.73H34.9 M33 488.73H34.9 M31.7 492.72H34.9 M33 496.71H34.9 M33 500.71H34.9 M33 504.7H34.9 M31.7 508.7H34.9 M40.9 508.7V512.3 M61.2 508.7V512.3 M88 508.7V512.3 M124.4 508.7V512.3 M155.5 508.7V512.3 M43.14 508.7V511 M45.39 508.7V511 M47.63 508.7V511 M49.87 508.7V511 M52.11 508.7V511 M54.36 508.7V511 M56.6 508.7V511 M58.84 508.7V511 M63.33 508.7V511 M65.57 508.7V511 M67.81 508.7V511 M70.06 508.7V511 M72.3 508.7V511 M74.54 508.7V511 M76.79 508.7V511 M79.03 508.7V511 M81.27 508.7V511 M83.51 508.7V511 M85.76 508.7V511 M98.96 508.7V511 M105.37 508.7V511 M109.91 508.7V511 M113.44 508.7V511 M116.32 508.7V511 M118.76 508.7V511 M120.87 508.7V511 M122.73 508.7V511 M133.76 508.7V511 M139.24 508.7V511 M143.12 508.7V511 M146.14 508.7V511 M148.6 508.7V511 M150.68 508.7V511 M152.49 508.7V511 M154.08 508.7V511 M164.86 508.7V511" stroke="#111" stroke-width="1.25" fill="none"/>
<rect x="34.9" y="428.8" width="133.8" height="79.9" fill="none" stroke="#111" stroke-width="1.7"/>
<path d="M171.9 428.8H175.1 M173.2 432.8H175.1 M173.2 436.79H175.1 M173.2 440.79H175.1 M171.9 444.78H175.1 M173.2 448.78H175.1 M173.2 452.77H175.1 M173.2 456.77H175.1 M171.9 460.76H175.1 M173.2 464.75H175.1 M173.2 468.75H175.1 M173.2 472.75H175.1 M171.9 476.74H175.1 M173.2 480.74H175.1 M173.2 484.73H175.1 M173.2 488.73H175.1 M171.9 492.72H175.1 M173.2 496.71H175.1 M173.2 500.71H175.1 M173.2 504.7H175.1 M171.9 508.7H175.1 M181.1 508.7V512.3 M201.4 508.7V512.3 M228.2 508.7V512.3 M264.6 508.7V512.3 M295.7 508.7V512.3 M183.34 508.7V511 M185.59 508.7V511 M187.83 508.7V511 M190.07 508.7V511 M192.31 508.7V511 M194.56 508.7V511 M196.8 508.7V511 M199.04 508.7V511 M203.53 508.7V511 M205.77 508.7V511 M208.01 508.7V511 M210.26 508.7V511 M212.5 508.7V511 M214.74 508.7V511 M216.99 508.7V511 M219.23 508.7V511 M221.47 508.7V511 M223.71 508.7V511 M225.96 508.7V511 M239.16 508.7V511 M245.57 508.7V511 M250.11 508.7V511 M253.64 508.7V511 M256.52 508.7V511 M258.96 508.7V511 M261.07 508.7V511 M262.93 508.7V511 M273.96 508.7V511 M279.44 508.7V511 M283.32 508.7V511 M286.34 508.7V511 M288.8 508.7V511 M290.88 508.7V511 M292.69 508.7V511 M294.28 508.7V511 M305.06 508.7V511" stroke="#111" stroke-width="1.25" fill="none"/>
<rect x="175.1" y="428.8" width="133.8" height="79.9" fill="none" stroke="#111" stroke-width="1.7"/>
<path d="M312.2 428.8H315.4 M313.5 432.8H315.4 M313.5 436.79H315.4 M313.5 440.79H315.4 M312.2 444.78H315.4 M313.5 448.78H315.4 M313.5 452.77H315.4 M313.5 456.77H315.4 M312.2 460.76H315.4 M313.5 464.75H315.4 M313.5 468.75H315.4 M313.5 472.75H315.4 M312.2 476.74H315.4 M313.5 480.74H315.4 M313.5 484.73H315.4 M313.5 488.73H315.4 M312.2 492.72H315.4 M313.5 496.71H315.4 M313.5 500.71H315.4 M313.5 504.7H315.4 M312.2 508.7H315.4 M321.4 508.7V512.3 M341.7 508.7V512.3 M368.5 508.7V512.3 M404.9 508.7V512.3 M436 508.7V512.3 M323.64 508.7V511 M325.89 508.7V511 M328.13 508.7V511 M330.37 508.7V511 M332.61 508.7V511 M334.86 508.7V511 M337.1 508.7V511 M339.34 508.7V511 M343.83 508.7V511 M346.07 508.7V511 M348.31 508.7V511 M350.56 508.7V511 M352.8 508.7V511 M355.04 508.7V511 M357.29 508.7V511 M359.53 508.7V511 M361.77 508.7V511 M364.01 508.7V511 M366.26 508.7V511 M379.46 508.7V511 M385.87 508.7V511 M390.41 508.7V511 M393.94 508.7V511 M396.82 508.7V511 M399.26 508.7V511 M401.37 508.7V511 M403.23 508.7V511 M414.26 508.7V511 M419.74 508.7V511 M423.62 508.7V511 M426.64 508.7V511 M429.1 508.7V511 M431.18 508.7V511 M432.99 508.7V511 M434.58 508.7V511 M445.36 508.7V511" stroke="#111" stroke-width="1.25" fill="none"/>
<rect x="315.4" y="428.8" width="133.8" height="79.9" fill="none" stroke="#111" stroke-width="1.7"/>
<text x="109.5" y="60.6" font-size="8.1" font-weight="normal" text-anchor="start" fill="#262626" stroke="#262626" stroke-width="0.3">x4.3 <tspan fill="#8c8c8c" stroke="#8c8c8c">&#177;</tspan> 1.8</text>
<text x="102" y="148.9" font-size="8.1" font-weight="normal" text-anchor="start" fill="#262626" stroke="#262626" stroke-width="0.3">x2.5 <tspan fill="#8c8c8c" stroke="#8c8c8c">&#177;</tspan> 0.2</text>
<text x="242" y="148.9" font-size="8.1" font-weight="normal" text-anchor="start" fill="#262626" stroke="#262626" stroke-width="0.3">x3.2 <tspan fill="#8c8c8c" stroke="#8c8c8c">&#177;</tspan> 0.7</text>
<text x="162.3" y="265.75" font-size="8.3" font-weight="normal" text-anchor="end" fill="#262626" stroke="#262626" stroke-width="0.3">6.2 <tspan fill="#8c8c8c" stroke="#8c8c8c">&#177;</tspan> 3.1</text>
<text x="302.5" y="265.75" font-size="8.3" font-weight="normal" text-anchor="end" fill="#262626" stroke="#262626" stroke-width="0.3">2.2 <tspan fill="#8c8c8c" stroke="#8c8c8c">&#177;</tspan> 0.5</text>
<text x="442.8" y="265.75" font-size="8.3" font-weight="normal" text-anchor="end" fill="#262626" stroke="#262626" stroke-width="0.3">4.2 <tspan fill="#8c8c8c" stroke="#8c8c8c">&#177;</tspan> 1.6</text>
<text x="162.3" y="353.75" font-size="8.3" font-weight="normal" text-anchor="end" fill="#262626" stroke="#262626" stroke-width="0.3">2.5 <tspan fill="#8c8c8c" stroke="#8c8c8c">&#177;</tspan> 0.1</text>
<text x="162.3" y="441.75" font-size="8.3" font-weight="normal" text-anchor="end" fill="#262626" stroke="#262626" stroke-width="0.3">4.8 <tspan fill="#8c8c8c" stroke="#8c8c8c">&#177;</tspan> 2.2</text>
<text x="101.8" y="247.35" font-size="9.2" font-weight="bold" text-anchor="middle" fill="#111" stroke="#111" stroke-width="0.35">DMSO</text>
<text x="242" y="247.35" font-size="9.2" font-weight="bold" text-anchor="middle" fill="#111" stroke="#111" stroke-width="0.35">MEKi</text>
<text x="382.3" y="247.35" font-size="9.2" font-weight="bold" text-anchor="middle" fill="#111" stroke="#111" stroke-width="0.35">SFKi</text>
<text x="453" y="296.55" font-size="10.25" font-weight="bold" text-anchor="start" fill="#111" stroke="#111" stroke-width="0.35">YWT</text>
<text x="453" y="384.55" font-size="10.25" font-weight="bold" text-anchor="start" fill="#111" stroke="#111" stroke-width="0.35">Y559AB</text>
<text x="453" y="472.5" font-size="10.25" font-weight="bold" text-anchor="start" fill="#111" stroke="#111" stroke-width="0.35">Y559/807AB</text>
<text x="8" y="16.3" font-size="12.1" font-weight="bold" text-anchor="start" fill="#000" stroke="#000" stroke-width="0.6">A</text>
<text x="8.1" y="239.9" font-size="12.1" font-weight="bold" text-anchor="start" fill="#000" stroke="#000" stroke-width="0.6">B</text>
<rect x="319.5" y="25.5" width="19" height="7" fill="none" stroke="#e8507f" stroke-width="3.4" stroke-opacity="0.18"/>
<rect x="319.5" y="25.5" width="19" height="7" fill="#fff" stroke="#8c173f" stroke-width="1.3"/>
<rect x="319.5" y="37.2" width="19" height="7" fill="#c8cbe0" stroke="#344468" stroke-width="1.3"/>
<text x="342" y="31.6" font-size="8" font-weight="normal" text-anchor="start" fill="#222" stroke="#222" stroke-width="0.3">transduced</text>
<text x="342" y="43.2" font-size="8" font-weight="normal" text-anchor="start" fill="#222" stroke="#222" stroke-width="0.3">untransduced</text>
<path d="M21.7 28.5V103.6" stroke="#111" stroke-width="1.3"/>
<path d="M21.7 23.5 L25.3 31.9 L21.7 30.7 L18.1 31.9 Z" fill="#111"/>
<text x="0" y="0" font-size="9.15" font-weight="normal" text-anchor="start" fill="#1a1a1a" stroke="#1a1a1a" stroke-width="0.3" transform="translate(25.1 192.2) rotate(-90)">Normalized to mode</text>
<path d="M60.7 206.6H304" stroke="#111" stroke-width="1.6"/>
<path d="M309 206.6 L300 202.6 L301.4 206.6 L300 210.6 Z" fill="#111"/>
<text x="31.9" y="209.6" font-size="9" font-weight="normal" text-anchor="start" fill="#222" stroke="#222" stroke-width="0.3">p-ERK</text>
<path d="M20.1 256.9V423.5" stroke="#111" stroke-width="1.3"/>
<path d="M20.1 251.9 L23.7 260.3 L20.1 259.1 L16.5 260.3 Z" fill="#111"/>
<text x="0" y="0" font-size="9.15" font-weight="normal" text-anchor="start" fill="#1a1a1a" stroke="#1a1a1a" stroke-width="0.3" transform="translate(23.0 509.7) rotate(-90)">Normalized to mode</text>
<path d="M58.3 521.4H444.5" stroke="#111" stroke-width="1.6"/>
<path d="M449.5 521.4 L440.5 517.4 L441.9 521.4 L440.5 525.4 Z" fill="#111"/>
<text x="30.6" y="524.6" font-size="9" font-weight="normal" text-anchor="start" fill="#222" stroke="#222" stroke-width="0.3">p-ERK</text></svg>
<div class="bt"></div><div class="bl"></div><div class="br"></div><div class="bb"></div>
</body></html>
